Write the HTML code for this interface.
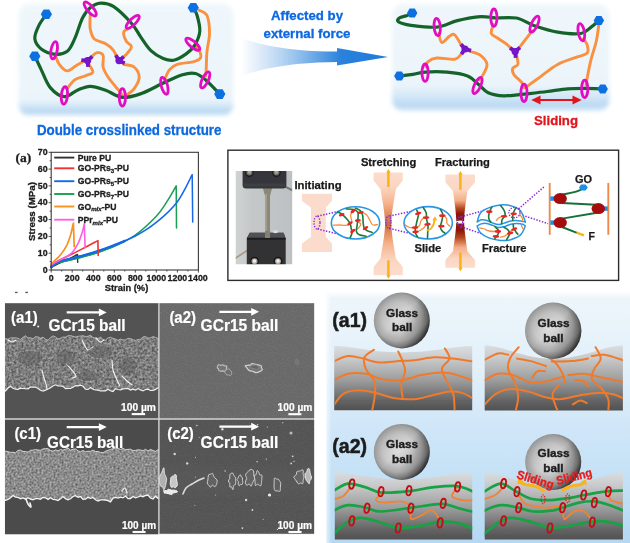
<!DOCTYPE html>
<html><head><meta charset="utf-8"><title>Figure</title>
<style>html,body{margin:0;padding:0;background:#fff}svg{display:block}</style></head>
<body>
<svg width="630" height="543" viewBox="0 0 630 543">
<rect width="630" height="543" fill="#ffffff"/>
<defs>
<linearGradient id="pg" x1="0" y1="0" x2="0" y2="1"><stop offset="0" stop-color="#eff7fb"/><stop offset="0.86" stop-color="#ebf4fa"/><stop offset="0.925" stop-color="#cde4f6"/><stop offset="0.965" stop-color="#b8d8f2"/><stop offset="1" stop-color="#d2e7f7"/></linearGradient>
<linearGradient id="pg2" x1="0" y1="0" x2="0" y2="1"><stop offset="0" stop-color="#eff7fb"/><stop offset="0.76" stop-color="#ebf4fa"/><stop offset="0.88" stop-color="#d0e5f6"/><stop offset="0.95" stop-color="#bad9f2"/><stop offset="1" stop-color="#d2e7f7"/></linearGradient>
<linearGradient id="ag" x1="0" y1="0" x2="1" y2="0"><stop offset="0" stop-color="#cfe2f6" stop-opacity="0"/><stop offset="0.14" stop-color="#cfe2f6" stop-opacity="0.75"/><stop offset="0.5" stop-color="#6aa8e6"/><stop offset="0.68" stop-color="#2a82dc"/><stop offset="1" stop-color="#1e7ad8"/></linearGradient>
<filter id="b1" x="-5%" y="-8%" width="110%" height="116%"><feGaussianBlur stdDeviation="2"/></filter>
<filter id="b05"><feGaussianBlur stdDeviation="0.45"/></filter>
</defs>
<rect x="18.5" y="3.8" width="215" height="111.8" rx="11" fill="url(#pg)" filter="url(#b1)"/>
<rect x="392" y="4" width="217.5" height="106.8" rx="11" fill="url(#pg2)" filter="url(#b1)"/>
<path d="M241 38 C275 50 310 51.5 337 51.5 L337 48 L388 57 L337 65.5 L337 62 C310 62.5 275 64 241 76 Z" fill="url(#ag)" filter="url(#b05)"/>
<g filter="url(#b05)">
<path d="M90.2 15.5 C90.2 17.6 89.6 24.5 90.2 28.4 C90.9 32.2 91.5 36.1 94.1 38.7 C96.6 41.2 102.4 41.9 105.7 43.8 C108.9 45.7 111.5 47.9 113.4 50.3 C115.3 52.6 116.6 56.7 117.3 58.0" fill="none" stroke="#f9913f" stroke-width="2.9" stroke-linecap="round" stroke-linejoin="round" />
<path d="M128.9 28.4 C128.0 29.0 124.1 30.1 123.7 32.2 C123.3 34.4 125.0 38.9 126.3 41.2 C127.6 43.6 131.2 44.5 131.4 46.4 C131.7 48.3 129.1 50.9 127.6 52.8 C126.1 54.8 123.3 57.1 122.4 58.0" fill="none" stroke="#f9913f" stroke-width="2.9" stroke-linecap="round" stroke-linejoin="round" />
<path d="M123.7 64.4 C125.4 64.9 131.4 64.9 134.0 67.0 C136.6 69.2 139.2 73.7 139.2 77.3 C139.2 81.0 136.2 85.9 134.0 88.9 C131.9 91.9 127.6 94.3 126.3 95.4" fill="none" stroke="#f9913f" stroke-width="2.9" stroke-linecap="round" stroke-linejoin="round" />
<path d="M55.4 55.4 C56.1 56.9 57.3 61.9 59.3 64.4 C61.2 67.0 64.2 70.7 67.0 70.9 C69.8 71.1 73.2 67.3 76.0 65.7 C78.8 64.1 82.5 62.1 83.8 61.3" fill="none" stroke="#f9913f" stroke-width="2.9" stroke-linecap="round" stroke-linejoin="round" />
<path d="M90.2 58.0 C91.3 57.1 94.5 53.3 96.6 52.8 C98.8 52.4 102.0 53.0 103.1 55.4 C104.2 57.8 102.2 63.4 103.1 67.0 C104.0 70.7 105.7 73.5 108.2 77.3 C110.8 81.2 116.2 87.2 118.6 90.2 C120.9 93.2 121.8 94.5 122.4 95.4" fill="none" stroke="#f9913f" stroke-width="2.9" stroke-linecap="round" stroke-linejoin="round" />
<path d="M88.9 64.4 C89.6 65.7 93.4 70.2 92.8 72.2 C92.1 74.1 88.1 74.7 85.1 76.0 C82.0 77.3 77.7 77.7 74.7 79.9 C71.7 82.0 68.3 87.4 67.0 88.9" fill="none" stroke="#f9913f" stroke-width="2.9" stroke-linecap="round" stroke-linejoin="round" />
<path d="M199.2 10.3 C200.5 11.2 205.2 11.6 207.0 15.5 C208.7 19.3 209.5 27.5 209.5 33.5 C209.5 39.5 207.5 45.5 207.0 51.5 C206.4 57.6 206.4 65.5 206.2 69.6 C206.0 73.7 205.8 75.0 205.7 76.0" fill="none" stroke="#f9913f" stroke-width="2.9" stroke-linecap="round" stroke-linejoin="round" />
<path d="M164.4 79.9 C165.3 78.2 167.4 72.2 169.6 69.6 C171.7 67.0 173.5 65.7 177.3 64.4 C181.2 63.1 188.9 62.9 192.8 61.9 C196.6 60.8 199.4 59.9 200.5 58.0 C201.6 56.1 200.1 52.2 199.2 50.3 C198.4 48.3 196.0 47.0 195.4 46.4" fill="none" stroke="#f9913f" stroke-width="2.9" stroke-linecap="round" stroke-linejoin="round" />
<path d="M46.4 14.2 C45.1 16.1 40.6 21.7 38.7 25.8 C36.7 29.9 34.4 34.8 34.8 38.7 C35.2 42.5 38.0 46.4 41.2 49.0 C44.5 51.5 49.8 53.7 54.1 54.1 C58.4 54.6 63.6 54.1 67.0 51.5 C70.4 49.0 72.2 44.2 74.7 38.7 C77.3 33.1 79.9 23.2 82.5 18.0 C85.1 12.9 87.2 10.2 90.2 7.7 C93.2 5.2 96.6 3.3 100.5 3.1 C104.4 2.9 108.2 3.1 113.4 6.4 C118.6 9.8 126.9 18.2 131.4 23.2 C136.0 28.2 137.3 32.0 140.5 36.6 C143.7 41.2 147.1 47.0 150.9 50.6 C154.7 54.2 159.4 56.9 163.2 58.5 C167.0 60.1 169.8 60.9 173.6 60.2 C177.4 59.5 182.3 56.6 185.8 54.1 C189.3 51.6 192.3 49.2 194.6 45.4 C196.9 41.6 199.4 36.4 199.8 31.4 C200.2 26.4 198.3 19.6 197.2 15.7 C196.1 11.8 194.0 9.0 193.3 7.7" fill="none" stroke="#14642c" stroke-width="3.2" stroke-linecap="round" stroke-linejoin="round" />
<path d="M34.8 56.2 C35.9 58.4 38.7 64.3 41.2 69.6 C43.8 74.8 46.4 83.1 50.3 87.6 C54.1 92.1 59.9 96.2 64.4 96.6 C68.9 97.1 73.0 91.9 77.3 90.2 C81.6 88.5 85.5 86.3 90.2 86.3 C94.9 86.3 100.3 88.4 105.7 90.2 C111.0 92.1 116.5 96.9 122.4 97.4 C128.4 98.0 134.2 96.0 141.2 93.6 C148.2 91.1 157.6 85.6 164.4 82.5 C171.3 79.3 177.3 76.2 182.5 74.7 C187.6 73.2 191.5 72.6 195.4 73.5 C199.2 74.3 201.6 76.5 205.7 79.9 C209.8 83.3 217.5 91.7 219.8 94.1" fill="none" stroke="#14642c" stroke-width="3.2" stroke-linecap="round" stroke-linejoin="round" />
<ellipse cx="90.2" cy="9.0" rx="3.1" ry="8.7" transform="rotate(-40 90.2 9.0)" fill="none" stroke="#e20cc2" stroke-width="2.8"/>
<ellipse cx="132.7" cy="21.9" rx="3.1" ry="8.7" transform="rotate(45 132.7 21.9)" fill="none" stroke="#e20cc2" stroke-width="2.8"/>
<ellipse cx="54.1" cy="50.3" rx="3.1" ry="8.7" transform="rotate(10 54.1 50.3)" fill="none" stroke="#e20cc2" stroke-width="2.8"/>
<ellipse cx="64.4" cy="95.4" rx="3.1" ry="8.7" transform="rotate(5 64.4 95.4)" fill="none" stroke="#e20cc2" stroke-width="2.8"/>
<ellipse cx="122.4" cy="97.4" rx="3.1" ry="8.7" transform="rotate(0 122.4 97.4)" fill="none" stroke="#e20cc2" stroke-width="2.8"/>
<ellipse cx="192.8" cy="44.3" rx="3.1" ry="8.7" transform="rotate(-50 192.8 44.3)" fill="none" stroke="#e20cc2" stroke-width="2.8"/>
<ellipse cx="164.4" cy="85.8" rx="3.1" ry="8.7" transform="rotate(-15 164.4 85.8)" fill="none" stroke="#e20cc2" stroke-width="2.8"/>
<ellipse cx="205.2" cy="79.9" rx="3.1" ry="8.7" transform="rotate(25 205.2 79.9)" fill="none" stroke="#e20cc2" stroke-width="2.8"/>
<line x1="87.6" y1="60.6" x2="81.3" y2="60.1" stroke="#7412c8" stroke-width="3.8" stroke-linecap="butt"/><line x1="87.6" y1="60.6" x2="92.3" y2="56.4" stroke="#7412c8" stroke-width="3.8" stroke-linecap="butt"/><line x1="87.6" y1="60.6" x2="88.1" y2="66.9" stroke="#7412c8" stroke-width="3.8" stroke-linecap="butt"/><circle cx="87.6" cy="60.6" r="3.6" fill="#7412c8"/>
<line x1="119.0" y1="60.6" x2="115.8" y2="55.1" stroke="#7412c8" stroke-width="3.8" stroke-linecap="butt"/><line x1="119.0" y1="60.6" x2="123.8" y2="56.6" stroke="#7412c8" stroke-width="3.8" stroke-linecap="butt"/><line x1="119.0" y1="60.6" x2="124.7" y2="63.3" stroke="#7412c8" stroke-width="3.8" stroke-linecap="butt"/><circle cx="119.0" cy="60.6" r="3.6" fill="#7412c8"/>
<polygon points="52.0,14.2 49.2,19.0 43.6,19.0 40.8,14.2 43.6,9.4 49.2,9.4" fill="#1070e0"/>
<polygon points="40.4,56.2 37.6,61.0 32.0,61.0 29.2,56.2 32.0,51.4 37.6,51.4" fill="#1070e0"/>
<polygon points="198.9,7.7 196.1,12.5 190.5,12.5 187.7,7.7 190.5,2.9 196.1,2.9" fill="#1070e0"/>
<polygon points="225.4,94.1 222.6,98.9 217.0,98.9 214.2,94.1 217.0,89.3 222.6,89.3" fill="#1070e0"/>
<path d="M438.8 33.5 C439.3 35.0 440.1 42.1 441.9 42.5 C443.7 43.0 447.4 37.4 449.6 36.1 C451.7 34.8 452.8 33.3 454.7 34.8 C456.7 36.3 460.1 43.4 461.2 45.1" fill="none" stroke="#f9913f" stroke-width="2.9" stroke-linecap="round" stroke-linejoin="round" />
<path d="M461.2 54.1 C460.1 55.0 458.8 58.6 454.7 59.3 C450.7 59.9 441.2 57.6 436.7 58.0 C432.2 58.4 429.5 60.4 427.7 61.9 C425.9 63.4 426.2 66.2 425.9 67.0" fill="none" stroke="#f9913f" stroke-width="2.9" stroke-linecap="round" stroke-linejoin="round" />
<path d="M470.2 51.5 C471.9 52.2 477.7 53.3 480.5 55.4 C483.3 57.6 486.5 61.2 487.0 64.4 C487.4 67.7 484.4 72.2 483.1 74.7 C481.8 77.3 479.9 79.0 479.2 79.9" fill="none" stroke="#f9913f" stroke-width="2.9" stroke-linecap="round" stroke-linejoin="round" />
<path d="M493.4 24.5 C493.1 26.0 490.5 31.1 491.3 33.5 C492.2 35.9 496.1 36.9 498.6 38.7 C501.0 40.4 504.1 42.1 506.3 43.8 C508.4 45.5 510.6 48.1 511.4 49.0" fill="none" stroke="#f9913f" stroke-width="2.9" stroke-linecap="round" stroke-linejoin="round" />
<path d="M532.1 30.9 C530.8 32.6 526.5 38.4 524.3 41.2 C522.2 44.0 520.0 46.6 519.2 47.7" fill="none" stroke="#f9913f" stroke-width="2.9" stroke-linecap="round" stroke-linejoin="round" />
<path d="M516.6 55.4 C516.8 56.9 518.5 62.3 517.9 64.4 C517.2 66.6 513.4 66.6 512.7 68.3 C512.1 70.0 512.5 72.4 514.0 74.7 C515.5 77.1 520.1 80.3 521.8 82.5 C523.4 84.6 523.5 86.8 523.8 87.6" fill="none" stroke="#f9913f" stroke-width="2.9" stroke-linecap="round" stroke-linejoin="round" />
<path d="M525.4 87.6 C527.8 85.9 534.2 81.2 539.6 77.3 C545.0 73.5 551.2 67.9 557.6 64.4 C564.1 61.0 573.3 58.6 578.2 56.7 C583.2 54.8 585.8 54.8 587.3 52.8 C588.8 50.9 587.9 47.5 587.3 45.1 C586.6 42.7 584.0 39.7 583.4 38.7" fill="none" stroke="#f9913f" stroke-width="2.9" stroke-linecap="round" stroke-linejoin="round" />
<path d="M598.9 24.5 C598.4 27.3 597.6 35.4 596.3 41.2 C595.0 47.0 592.6 53.3 591.1 59.3 C589.6 65.3 588.1 73.0 587.3 77.3 C586.4 81.6 586.2 83.8 586.0 85.1" fill="none" stroke="#f9913f" stroke-width="2.9" stroke-linecap="round" stroke-linejoin="round" />
<path d="M412.2 12.9 C411.4 13.3 409.2 14.6 407.1 15.5 C404.9 16.3 400.7 17.0 399.3 18.0 C397.9 19.1 396.6 20.7 398.6 21.9 C400.5 23.1 404.6 24.4 410.9 25.3 C417.3 26.1 429.0 27.8 436.7 27.1 C444.4 26.3 450.4 22.3 457.3 20.6 C464.2 18.9 471.9 17.3 477.9 16.8 C484.0 16.2 490.6 17.3 493.4 17.5 C496.2 17.7 490.7 18.0 494.5 18.0 C498.3 18.1 509.7 16.8 516.4 18.0 C523.0 19.3 527.6 23.4 534.4 25.8 C541.3 28.1 549.9 30.9 557.6 32.2 C565.4 33.5 575.2 34.4 580.8 33.5 C586.4 32.6 588.1 29.2 591.1 27.1 C594.1 24.9 597.6 21.7 598.9 20.6" fill="none" stroke="#14642c" stroke-width="3.2" stroke-linecap="round" stroke-linejoin="round" />
<path d="M399.3 76.0 C401.3 75.8 406.6 75.4 410.9 74.7 C415.2 74.1 419.1 72.6 425.1 72.2 C431.1 71.7 439.9 71.5 447.0 72.2 C454.1 72.8 462.3 73.9 467.6 76.0 C473.0 78.2 475.8 82.3 479.2 85.1 C482.7 87.8 484.2 91.0 488.2 92.8 C492.3 94.6 497.7 95.7 503.7 95.9 C509.7 96.1 516.9 94.8 524.1 94.1 C531.4 93.3 540.0 92.4 547.3 91.5 C554.6 90.6 561.7 89.4 567.9 88.9 C574.2 88.4 578.9 88.4 584.7 88.4 C590.5 88.4 599.7 88.8 602.7 88.9" fill="none" stroke="#14642c" stroke-width="3.2" stroke-linecap="round" stroke-linejoin="round" />
<ellipse cx="437.2" cy="27.0" rx="3.1" ry="8.7" transform="rotate(-5 437.2 27.0)" fill="none" stroke="#e20cc2" stroke-width="2.8"/>
<ellipse cx="493.9" cy="17.7" rx="3.1" ry="8.7" transform="rotate(0 493.9 17.7)" fill="none" stroke="#e20cc2" stroke-width="2.8"/>
<ellipse cx="534.5" cy="24.2" rx="3.1" ry="8.7" transform="rotate(25 534.5 24.2)" fill="none" stroke="#e20cc2" stroke-width="2.8"/>
<ellipse cx="425.1" cy="72.7" rx="3.1" ry="8.7" transform="rotate(0 425.1 72.7)" fill="none" stroke="#e20cc2" stroke-width="2.8"/>
<ellipse cx="477.5" cy="85.5" rx="3.1" ry="8.7" transform="rotate(25 477.5 85.5)" fill="none" stroke="#e20cc2" stroke-width="2.8"/>
<ellipse cx="524.0" cy="92.8" rx="3.1" ry="8.7" transform="rotate(0 524.0 92.8)" fill="none" stroke="#e20cc2" stroke-width="2.8"/>
<ellipse cx="581.3" cy="32.2" rx="3.1" ry="8.7" transform="rotate(-10 581.3 32.2)" fill="none" stroke="#e20cc2" stroke-width="2.8"/>
<ellipse cx="584.7" cy="88.9" rx="3.1" ry="8.7" transform="rotate(0 584.7 88.9)" fill="none" stroke="#e20cc2" stroke-width="2.8"/>
<line x1="465.0" y1="49.0" x2="461.0" y2="44.2" stroke="#7412c8" stroke-width="3.8" stroke-linecap="butt"/><line x1="465.0" y1="49.0" x2="461.4" y2="54.2" stroke="#7412c8" stroke-width="3.8" stroke-linecap="butt"/><line x1="465.0" y1="49.0" x2="471.1" y2="50.6" stroke="#7412c8" stroke-width="3.8" stroke-linecap="butt"/><circle cx="465.0" cy="49.0" r="3.6" fill="#7412c8"/>
<line x1="515.2" y1="51.5" x2="510.0" y2="47.9" stroke="#7412c8" stroke-width="3.8" stroke-linecap="butt"/><line x1="515.2" y1="51.5" x2="520.0" y2="47.5" stroke="#7412c8" stroke-width="3.8" stroke-linecap="butt"/><line x1="515.2" y1="51.5" x2="515.7" y2="57.8" stroke="#7412c8" stroke-width="3.8" stroke-linecap="butt"/><circle cx="515.2" cy="51.5" r="3.6" fill="#7412c8"/>
<polygon points="417.4,12.9 414.8,17.4 409.6,17.4 407.0,12.9 409.6,8.4 414.8,8.4" fill="#1070e0"/>
<polygon points="404.5,76.0 401.9,80.5 396.7,80.5 394.1,76.0 396.7,71.5 401.9,71.5" fill="#1070e0"/>
<polygon points="604.1,20.6 601.5,25.1 596.3,25.1 593.7,20.6 596.3,16.1 601.5,16.1" fill="#1070e0"/>
<polygon points="607.9,88.9 605.3,93.4 600.1,93.4 597.5,88.9 600.1,84.4 605.3,84.4" fill="#1070e0"/>
<line x1="537" y1="100" x2="576" y2="100" stroke="#e0141c" stroke-width="2.2"/><polygon points="531.3,100 540.5,95.6 540.5,104.4" fill="#e0141c"/><polygon points="581.7,100 572.5,95.6 572.5,104.4" fill="#e0141c"/>
</g>
<g font-family="Liberation Sans, sans-serif" font-weight="bold" filter="url(#b05)" stroke-width="0.3">
<text x="129.2" y="134.9" font-size="14.6" fill="#0c68e0" stroke="#0c68e0" text-anchor="middle" textLength="184.5" lengthAdjust="spacingAndGlyphs">Double crosslinked structure</text>
<text x="307" y="20" font-size="13.2" fill="#0c68e0" stroke="#0c68e0" text-anchor="middle" textLength="72" lengthAdjust="spacingAndGlyphs">Affected by</text>
<text x="307" y="37.5" font-size="13.2" fill="#0c68e0" stroke="#0c68e0" text-anchor="middle" textLength="87" lengthAdjust="spacingAndGlyphs">external force</text>
<text x="556" y="125" font-size="13.3" fill="#e0141c" stroke="#e0141c" text-anchor="middle" textLength="44" lengthAdjust="spacingAndGlyphs">Sliding</text>
</g>
<g filter="url(#b05)">
<path d="M51.2 267.5 C52.3 266.9 54.9 265.4 57.5 264.1 C60.1 262.9 63.6 261.5 67.0 259.9 C70.3 258.3 75.7 255.4 77.5 254.5 L77.7 262.4" fill="none" stroke="#333" stroke-width="1.4" stroke-linejoin="round" stroke-linecap="round"/>
<path d="M51.2 267.5 C52.1 266.8 54.7 264.2 56.5 263.3 C58.2 262.3 59.1 262.4 61.7 261.8 C64.3 261.1 67.0 260.7 72.2 259.4 C77.5 258.1 86.2 256.1 93.3 253.9 C100.3 251.6 109.0 248.2 114.3 246.1 C119.5 244.0 123.0 242.1 124.8 241.2" fill="none" stroke="#14a050" stroke-width="1.9" stroke-linejoin="round" stroke-linecap="round"/>
<path d="M51.2 267.5 C52.1 266.8 54.7 264.2 56.5 263.3 C58.2 262.3 59.1 262.4 61.7 261.8 C64.3 261.1 67.0 260.7 72.2 259.4 C77.5 258.1 86.2 256.1 93.3 253.9 C100.3 251.6 107.3 249.3 114.3 246.1 C121.3 243.0 128.3 240.0 135.3 235.0 C142.3 230.0 151.1 221.7 156.3 216.2 C161.6 210.6 163.5 206.8 166.9 201.7 C170.2 196.7 174.7 188.6 176.2 185.9 L176.5 228.0" fill="none" stroke="#14a050" stroke-width="1.5" stroke-linejoin="round" stroke-linecap="round"/>
<path d="M51.2 266.6 C52.1 265.9 54.7 263.4 56.5 262.4 C58.2 261.4 59.1 261.3 61.7 260.6 C64.3 259.9 67.0 259.6 72.2 258.2 C77.5 256.9 86.2 254.7 93.3 252.5 C100.3 250.3 109.0 247.0 114.3 245.1 C119.5 243.2 123.0 241.6 124.8 240.9" fill="none" stroke="#1468e8" stroke-width="2.2" stroke-linejoin="round" stroke-linecap="round"/>
<path d="M51.2 266.6 C52.1 265.9 54.7 263.4 56.5 262.4 C58.2 261.4 59.1 261.3 61.7 260.6 C64.3 259.9 67.0 259.6 72.2 258.2 C77.5 256.9 86.2 254.7 93.3 252.5 C100.3 250.3 107.3 247.9 114.3 245.1 C121.3 242.4 128.3 239.8 135.3 236.0 C142.3 232.3 149.3 228.1 156.3 222.4 C163.4 216.7 171.4 209.7 177.4 201.7 C183.3 193.8 189.7 179.2 192.2 174.7 L192.7 222.1" fill="none" stroke="#1468e8" stroke-width="1.5" stroke-linejoin="round" stroke-linecap="round"/>
<path d="M51.2 265.8 C52.1 265.1 53.8 263.1 56.5 261.6 C59.1 260.1 62.6 258.7 67.0 256.5 C71.4 254.4 77.6 251.3 82.7 248.6 C87.9 246.0 95.4 241.9 97.9 240.6 L98.2 255.5" fill="none" stroke="#f03030" stroke-width="1.6" stroke-linejoin="round" stroke-linecap="round"/>
<path d="M51.2 265.0 C52.3 264.3 55.2 262.5 57.5 261.3 C59.8 260.0 62.4 259.0 64.9 257.6 C67.3 256.1 69.9 255.1 72.2 252.5 C74.5 250.0 77.0 245.6 78.6 242.3 C80.3 238.9 81.3 235.2 82.2 232.2 C83.2 229.1 84.0 225.3 84.3 223.9 L85.1 247.6" fill="none" stroke="#fa60e0" stroke-width="1.6" stroke-linejoin="round" stroke-linecap="round"/>
<path d="M51.2 264.1 C51.9 263.4 53.7 261.6 55.4 259.9 C57.1 258.2 59.3 256.5 61.2 254.0 C63.1 251.5 65.4 248.0 67.0 244.8 C68.5 241.6 69.6 238.3 70.7 234.7 C71.7 231.1 72.9 225.0 73.4 223.1 L74.2 246.6" fill="none" stroke="#f89020" stroke-width="1.7" stroke-linejoin="round" stroke-linecap="round"/>
<rect x="51.2" y="152.3" width="147.2" height="117.7" fill="none" stroke="#3a3a3a" stroke-width="1.1"/>
<path d="M51.2 270.0 h-2.6 M51.2 261.6 h-1.5 M51.2 253.2 h-2.6 M51.2 244.8 h-1.5 M51.2 236.4 h-2.6 M51.2 228.0 h-1.5 M51.2 219.6 h-2.6 M51.2 211.2 h-1.5 M51.2 202.7 h-2.6 M51.2 194.3 h-1.5 M51.2 185.9 h-2.6 M51.2 177.5 h-1.5 M51.2 169.1 h-2.6 M51.2 160.7 h-1.5 M51.2 152.3 h-2.6 M51.2 270.0 v2.6 M61.7 270.0 v1.5 M72.2 270.0 v2.6 M82.7 270.0 v1.5 M93.3 270.0 v2.6 M103.8 270.0 v1.5 M114.3 270.0 v2.6 M124.8 270.0 v1.5 M135.3 270.0 v2.6 M145.8 270.0 v1.5 M156.3 270.0 v2.6 M166.9 270.0 v1.5 M177.4 270.0 v2.6 M187.9 270.0 v1.5 M198.4 270.0 v2.6" stroke="#3a3a3a" stroke-width="0.9" fill="none"/>
<line x1="54.2" y1="157.6" x2="74.3" y2="157.6" stroke="#333" stroke-width="1.9"/>
<line x1="54.2" y1="168.3" x2="74.3" y2="168.3" stroke="#f03030" stroke-width="1.9"/>
<line x1="54.2" y1="181.2" x2="74.3" y2="181.2" stroke="#1468e8" stroke-width="1.9"/>
<line x1="54.2" y1="194.0" x2="74.3" y2="194.0" stroke="#14a050" stroke-width="1.9"/>
<line x1="54.2" y1="206.5" x2="74.3" y2="206.5" stroke="#f89020" stroke-width="1.9"/>
<line x1="54.2" y1="219.7" x2="74.3" y2="219.7" stroke="#fa60e0" stroke-width="1.9"/>
<rect x="15" y="291.8" width="2.6" height="1.3" fill="#555"/><rect x="25.3" y="291.8" width="2.6" height="1.3" fill="#555"/>
</g>
<g font-family="Liberation Sans, sans-serif" font-weight="bold" fill="#1c1c1c" stroke="#1c1c1c" stroke-width="0.3" filter="url(#b05)">
<text x="47.6" y="272.6" font-size="8.8" text-anchor="end">0</text>
<text x="47.6" y="255.8" font-size="8.8" text-anchor="end">10</text>
<text x="47.6" y="239.0" font-size="8.8" text-anchor="end">20</text>
<text x="47.6" y="222.2" font-size="8.8" text-anchor="end">30</text>
<text x="47.6" y="205.3" font-size="8.8" text-anchor="end">40</text>
<text x="47.6" y="188.5" font-size="8.8" text-anchor="end">50</text>
<text x="47.6" y="171.7" font-size="8.8" text-anchor="end">60</text>
<text x="47.6" y="154.9" font-size="8.8" text-anchor="end">70</text>
<text x="51.2" y="280.5" font-size="8.8" text-anchor="middle">0</text>
<text x="72.2" y="280.5" font-size="8.8" text-anchor="middle">200</text>
<text x="93.3" y="280.5" font-size="8.8" text-anchor="middle">400</text>
<text x="114.3" y="280.5" font-size="8.8" text-anchor="middle">600</text>
<text x="135.3" y="280.5" font-size="8.8" text-anchor="middle">800</text>
<text x="156.3" y="280.5" font-size="8.8" text-anchor="middle">1000</text>
<text x="177.4" y="280.5" font-size="8.8" text-anchor="middle">1200</text>
<text x="197.9" y="280.5" font-size="8.8" text-anchor="middle">1400</text>
<text x="126.5" y="291.3" font-size="9" text-anchor="middle" textLength="43.5" lengthAdjust="spacingAndGlyphs">Strain (%)</text>
<text transform="translate(35.3 211.5) rotate(-90)" font-size="9" text-anchor="middle" textLength="59" lengthAdjust="spacingAndGlyphs">Stress (MPa)</text>
<text x="77.8" y="160.6" font-size="8.6">Pure PU</text>
<text x="77.8" y="171.3" font-size="8.6">GO-PRs<tspan font-size="6.1" dy="1.8">3</tspan><tspan dy="-1.8">-PU</tspan></text>
<text x="77.8" y="184.2" font-size="8.6">GO-PRs<tspan font-size="6.1" dy="1.8">5</tspan><tspan dy="-1.8">-PU</tspan></text>
<text x="77.8" y="197.0" font-size="8.6">GO-PRs<tspan font-size="6.1" dy="1.8">7</tspan><tspan dy="-1.8">-PU</tspan></text>
<text x="77.8" y="209.5" font-size="8.6">GO<tspan font-size="6.1" dy="1.8"><tspan font-style="italic">mix</tspan></tspan><tspan dy="-1.8">-PU</tspan></text>
<text x="77.8" y="222.7" font-size="8.6">PPr<tspan font-size="6.1" dy="1.8"><tspan font-style="italic">mix</tspan></tspan><tspan dy="-1.8">-PU</tspan></text>
<text x="15.5" y="162.3" font-family="Liberation Serif, serif" font-size="13.5">(a)</text>
</g>
<defs>
<linearGradient id="d2g" x1="0" y1="0" x2="0" y2="1"><stop offset="0" stop-color="#fcdccc"/><stop offset="0.14" stop-color="#fbd6c2"/><stop offset="0.3" stop-color="#f6b48e"/><stop offset="0.42" stop-color="#e08858"/><stop offset="0.5" stop-color="#c86a3c"/><stop offset="0.58" stop-color="#e08858"/><stop offset="0.7" stop-color="#f6b48e"/><stop offset="0.86" stop-color="#fbd6c2"/><stop offset="1" stop-color="#fcdccc"/></linearGradient>
<linearGradient id="d3g" x1="0" y1="0" x2="0" y2="1"><stop offset="0" stop-color="#fcdccc"/><stop offset="0.16" stop-color="#fbd6c2"/><stop offset="0.28" stop-color="#f4ae86"/><stop offset="0.36" stop-color="#b84a22"/><stop offset="0.42" stop-color="#8c1808"/><stop offset="0.6" stop-color="#8c1808"/><stop offset="0.68" stop-color="#b84a22"/><stop offset="0.78" stop-color="#f4ae86"/><stop offset="0.9" stop-color="#fbd6c2"/><stop offset="1" stop-color="#fcdccc"/></linearGradient>
<linearGradient id="phg" x1="0" y1="0" x2="1" y2="0"><stop offset="0" stop-color="#d2d4d4"/><stop offset="0.3" stop-color="#c4c8c8"/><stop offset="1" stop-color="#bcc0c2"/></linearGradient>
<filter id="b08"><feGaussianBlur stdDeviation="0.7"/></filter>
<clipPath id="phc"><rect x="235.7" y="171" width="56.5" height="93.2"/></clipPath>
</defs>
<rect x="227.9" y="150.2" width="390.7" height="130.2" fill="#fff" stroke="#2c2c2c" stroke-width="1.4"/>
<g filter="url(#b05)">
</g><g filter="url(#b08)" clip-path="url(#phc)">
<rect x="234" y="169" width="60" height="97" fill="url(#phg)"/>
<path d="M284 186.2 L293 190.5" stroke="#7a7672" stroke-width="2"/><path d="M235 258.5 L248 250" stroke="#a89888" stroke-width="1.6"/>
<path d="M262.6 187 H272.4 L270 196 V238 H265 V196 Z" fill="#8c8878"/><rect x="265.2" y="194" width="1.5" height="42" fill="#aaa698"/>
<path d="M242.6 169 H286.4 V185 Q286.4 188.6 283 188.6 H246 Q242.6 188.6 242.6 185 Z" fill="#34363a"/>
<rect x="244" y="183.5" width="41" height="3" fill="#3e3f42"/>
<circle cx="249.4" cy="172.8" r="4.3" fill="#1c1c1e"/><circle cx="249.4" cy="172.6" r="3" fill="#77736a"/><circle cx="249.4" cy="172.2" r="1.6" fill="#a8a498"/>
<circle cx="276.4" cy="172.8" r="4.3" fill="#1c1c1e"/><circle cx="276.4" cy="172.6" r="3" fill="#77736a"/><circle cx="276.4" cy="172.2" r="1.6" fill="#a8a498"/>
<path d="M249.8 232.8 H283.5 L285.7 238 V266 H246.8 V238 Z" fill="#303236"/>
<path d="M249.8 232.8 H283.5 L285.2 237.4 H247.6 Z" fill="#505154"/>
<rect x="247" y="238" width="38.6" height="1.6" fill="#1a1a1c"/>
<rect x="265" y="231" width="5" height="7" fill="#858172"/>
<ellipse cx="275.4" cy="231.6" rx="2.8" ry="1.7" fill="#dcdcdc"/>
<circle cx="254.5" cy="261.2" r="4.4" fill="#17171a"/><circle cx="254.5" cy="261.2" r="3" fill="#b0a89c"/><circle cx="254.5" cy="261" r="1.7" fill="#f2efe8"/>
<circle cx="278.0" cy="261.2" r="4.4" fill="#17171a"/><circle cx="278.0" cy="261.2" r="3" fill="#b0a89c"/><circle cx="278.0" cy="261" r="1.7" fill="#f2efe8"/>
</g><g filter="url(#b05)">
<path d="M301.9 193.7 H332 V200.7 L325.8 207.7 V236.7 L332 243.7 V252.1 H301.9 V243.7 L311 236.7 V207.7 L301.9 200.7 Z" fill="#fbdccc"/>
<path d="M373.6 172.4 H402.8 V180.6 L395.8 189.3 C394.2 200.7 391.8 210.0 391.3 223.8 C391.8 237.6 394.2 246.9 395.8 258.3 L402.8 267.0 V275.2 H373.6 V267.0 L380.6 258.3 C382.2 246.9 384.6 237.6 385.1 223.8 C384.6 210.0 382.2 200.7 380.6 189.3 L373.6 180.6 Z" fill="url(#d2g)"/>
<path d="M445.4 174.5 H475.0 V182.3 L467.4 191.0 C466.2 200.9 464.5 209.1 464.1 221.2 C464.5 233.2 466.2 241.4 467.4 251.3 L475.0 260.0 V267.8 H445.4 V260.0 L453.0 251.3 C454.2 241.4 455.9 233.2 456.3 221.2 C455.9 209.1 454.2 200.9 453.0 191.0 L445.4 182.3 Z" fill="url(#d3g)"/>
<ellipse cx="460.2" cy="222" rx="4.2" ry="1.6" fill="#fff"/>
<line x1="388.4" y1="187.0" x2="388.4" y2="171.5" stroke="#f8b418" stroke-width="2.5"/><polygon points="386.2,172.5 390.6,172.5 388.4,169.0" fill="#f8b418"/>
<line x1="388.4" y1="260.3" x2="388.4" y2="276.2" stroke="#f8b418" stroke-width="2.5"/><polygon points="386.2,275.2 390.6,275.2 388.4,278.7" fill="#f8b418"/>
<line x1="460.4" y1="189.9" x2="460.4" y2="173.5" stroke="#f8b418" stroke-width="2.5"/><polygon points="458.2,174.5 462.6,174.5 460.4,171.0" fill="#f8b418"/>
<line x1="460.4" y1="252.4" x2="460.4" y2="268.8" stroke="#f8b418" stroke-width="2.5"/><polygon points="458.2,267.8 462.6,267.8 460.4,271.3" fill="#f8b418"/>
<ellipse cx="317.0" cy="222.6" rx="3" ry="6.5" fill="none" stroke="#8a28d8" stroke-width="1.4" stroke-dasharray="1.3 1.3"/>
<line x1="317.5" y1="216.2" x2="339.0" y2="211.3" stroke="#8a28d8" stroke-width="1.5" stroke-dasharray="1.4 1.5"/>
<line x1="317.5" y1="229.0" x2="339.0" y2="234.2" stroke="#8a28d8" stroke-width="1.5" stroke-dasharray="1.4 1.5"/>
<ellipse cx="388.5" cy="222.2" rx="2.6" ry="6.2" fill="none" stroke="#8a28d8" stroke-width="1.4" stroke-dasharray="1.3 1.3"/>
<line x1="389.5" y1="216.0" x2="410.5" y2="211.5" stroke="#8a28d8" stroke-width="1.5" stroke-dasharray="1.4 1.5"/>
<line x1="389.5" y1="228.4" x2="410.0" y2="233.4" stroke="#8a28d8" stroke-width="1.5" stroke-dasharray="1.4 1.5"/>
<ellipse cx="460.1" cy="221.7" rx="2.6" ry="5" fill="none" stroke="#8a28d8" stroke-width="1.4" stroke-dasharray="1.3 1.3"/>
<line x1="461.0" y1="216.8" x2="481.4" y2="211.2" stroke="#8a28d8" stroke-width="1.5" stroke-dasharray="1.4 1.5"/>
<line x1="461.0" y1="226.6" x2="481.0" y2="233.6" stroke="#8a28d8" stroke-width="1.5" stroke-dasharray="1.4 1.5"/>
<line x1="518.6" y1="208.8" x2="545.0" y2="186.0" stroke="#8a28d8" stroke-width="1.5" stroke-dasharray="1.4 1.5"/>
<line x1="519.8" y1="214.4" x2="548.0" y2="223.6" stroke="#8a28d8" stroke-width="1.5" stroke-dasharray="1.4 1.5"/>
<ellipse cx="355.5" cy="222.9" rx="24.2" ry="16.1" fill="#fff" stroke="#2896e4" stroke-width="1.6"/>
<path d="M333.1 225.2 C334.1 225.2 337.0 225.0 339.3 225.0 C341.6 225.0 344.8 225.7 346.9 225.2 C349.0 224.8 351.0 223.9 351.7 222.4 C352.3 220.9 350.8 217.7 350.7 216.2 C350.6 214.7 350.7 214.0 351.2 213.3 C351.7 212.6 353.2 212.1 353.6 211.9" fill="none" stroke="#f4903c" stroke-width="1.3" stroke-linecap="round" stroke-linejoin="round" />
<path d="M363.6 212.9 C364.1 213.3 365.9 214.0 366.9 215.2 C367.9 216.4 368.8 218.4 369.8 220.0 C370.7 221.6 371.3 224.0 372.6 224.8 C373.9 225.5 376.6 224.6 377.4 224.6" fill="none" stroke="#f4903c" stroke-width="1.3" stroke-linecap="round" stroke-linejoin="round" />
<path d="M357.4 221.4 C357.9 221.8 360.4 222.9 360.7 223.8 C361.0 224.8 360.0 226.2 359.3 227.1 C358.6 228.1 356.9 229.1 356.4 229.5" fill="none" stroke="#f4903c" stroke-width="1.3" stroke-linecap="round" stroke-linejoin="round" />
<path d="M337.4 211.9 C338.2 212.3 340.6 213.1 342.1 214.3 C343.7 215.5 345.6 217.5 346.9 219.0 C348.3 220.6 349.5 222.2 350.2 223.8 C351.0 225.4 350.9 227.1 351.2 228.6 C351.5 230.0 352.3 230.9 352.1 232.4 C352.0 233.9 350.6 236.7 350.2 237.6" fill="none" stroke="#1a7a3c" stroke-width="1.6" stroke-linecap="round" stroke-linejoin="round" />
<path d="M346.4 209.0 C347.6 209.1 351.7 209.0 353.6 209.5 C355.5 210.1 357.1 210.8 357.9 212.4 C358.6 214.0 358.0 216.7 357.9 219.0 C357.7 221.4 357.1 224.6 356.9 226.7 C356.7 228.7 356.0 230.1 356.4 231.4 C356.8 232.8 357.7 234.0 359.3 234.8 C360.9 235.6 364.8 236.0 366.0 236.2" fill="none" stroke="#1a7a3c" stroke-width="1.6" stroke-linecap="round" stroke-linejoin="round" />
<path d="M355.5 208.1 C356.3 208.5 359.0 209.3 360.2 210.5 C361.4 211.7 362.1 213.3 362.6 215.2 C363.1 217.1 362.9 219.8 363.1 221.9 C363.3 224.0 363.4 226.2 364.0 227.6 C364.7 229.0 365.6 229.7 366.9 230.5 C368.3 231.3 371.3 232.1 372.1 232.4" fill="none" stroke="#1a7a3c" stroke-width="1.6" stroke-linecap="round" stroke-linejoin="round" />
<ellipse cx="341.7" cy="214.8" rx="3.0" ry="1.4" fill="#ee2222" transform="rotate(-20 341.7 214.8)"/>
<ellipse cx="353.1" cy="211.0" rx="3.0" ry="1.4" fill="#ee2222" transform="rotate(-35 353.1 211.0)"/>
<ellipse cx="360.7" cy="212.4" rx="3.0" ry="1.4" fill="#ee2222" transform="rotate(-10 360.7 212.4)"/>
<ellipse cx="357.9" cy="220.5" rx="3.0" ry="1.4" fill="#ee2222" transform="rotate(-5 357.9 220.5)"/>
<ellipse cx="350.0" cy="223.3" rx="3.0" ry="1.4" fill="#ee2222" transform="rotate(-30 350.0 223.3)"/>
<ellipse cx="365.5" cy="228.1" rx="3.0" ry="1.4" fill="#ee2222" transform="rotate(-30 365.5 228.1)"/>
<ellipse cx="352.8" cy="231.0" rx="3.0" ry="1.4" fill="#ee2222" transform="rotate(-35 352.8 231.0)"/>
<ellipse cx="428.2" cy="222.8" rx="24.2" ry="16.2" fill="#fff" stroke="#2896e4" stroke-width="1.6"/>
<path d="M405.1 224.8 C405.7 225.2 407.0 226.7 408.5 227.1 C410.0 227.6 412.4 227.9 414.2 227.6 C416.0 227.4 418.3 226.8 419.4 225.7 C420.5 224.6 420.1 222.2 420.9 221.0 C421.6 219.7 422.8 218.6 423.7 218.1 C424.7 217.6 426.1 218.1 426.6 218.1" fill="none" stroke="#f4903c" stroke-width="1.3" stroke-linecap="round" stroke-linejoin="round" />
<path d="M413.2 231.9 C414.2 231.7 417.2 231.6 419.0 231.0 C420.7 230.3 422.5 229.1 423.7 228.1 C424.9 227.1 425.3 225.5 426.1 224.8 C426.9 224.0 428.1 224.0 428.5 223.8" fill="none" stroke="#f4903c" stroke-width="1.3" stroke-linecap="round" stroke-linejoin="round" />
<path d="M444.7 215.7 C445.0 216.3 446.2 217.8 446.6 219.0 C447.0 220.3 446.5 222.1 447.0 223.3 C447.6 224.5 449.4 225.7 449.9 226.2" fill="none" stroke="#f4903c" stroke-width="1.3" stroke-linecap="round" stroke-linejoin="round" />
<path d="M416.6 210.0 C416.9 210.7 418.4 212.5 418.5 214.3 C418.6 216.1 417.5 218.7 417.0 221.0 C416.6 223.2 415.9 225.7 415.6 227.6 C415.3 229.5 414.8 230.9 415.1 232.4 C415.5 233.9 417.1 236.0 417.5 236.7" fill="none" stroke="#1a7a3c" stroke-width="1.6" stroke-linecap="round" stroke-linejoin="round" />
<path d="M423.2 207.6 C423.7 208.4 425.5 210.5 426.1 212.4 C426.7 214.3 426.3 216.8 426.6 219.0 C426.9 221.3 427.8 223.5 428.0 225.7 C428.2 227.9 427.8 230.3 427.7 232.4 C427.6 234.4 427.6 237.1 427.5 238.1" fill="none" stroke="#1a7a3c" stroke-width="1.6" stroke-linecap="round" stroke-linejoin="round" />
<path d="M440.4 209.5 C440.8 210.3 442.5 212.4 442.8 214.3 C443.0 216.2 442.2 218.9 441.8 221.0 C441.4 223.0 440.4 225.1 440.4 226.7 C440.4 228.3 441.0 229.4 441.8 230.5 C442.6 231.6 444.6 232.9 445.1 233.3" fill="none" stroke="#1a7a3c" stroke-width="1.6" stroke-linecap="round" stroke-linejoin="round" />
<ellipse cx="418.2" cy="213.3" rx="3.2" ry="1.4" fill="#ee2222" transform="rotate(-15 418.2 213.3)"/>
<ellipse cx="426.1" cy="217.6" rx="3.2" ry="1.4" fill="#ee2222" transform="rotate(0 426.1 217.6)"/>
<ellipse cx="427.5" cy="224.3" rx="3.2" ry="1.4" fill="#ee2222" transform="rotate(-5 427.5 224.3)"/>
<ellipse cx="415.1" cy="227.6" rx="3.2" ry="1.4" fill="#ee2222" transform="rotate(0 415.1 227.6)"/>
<ellipse cx="415.6" cy="231.9" rx="3.2" ry="1.4" fill="#ee2222" transform="rotate(-5 415.6 231.9)"/>
<ellipse cx="442.3" cy="215.7" rx="3.2" ry="1.4" fill="#ee2222" transform="rotate(0 442.3 215.7)"/>
<ellipse cx="441.3" cy="226.2" rx="3.2" ry="1.4" fill="#ee2222" transform="rotate(0 441.3 226.2)"/>
<path d="M426.6 230.5 C427.3 230.2 429.7 229.7 430.9 228.6 C432.0 227.5 433.1 225.3 433.7 223.8 C434.3 222.3 434.4 220.2 434.6 219.5" fill="none" stroke="#f8b418" stroke-width="1.9"/>
<polygon points="435.0,216.2 432.4,220.2 437.2,220.4" fill="#f8b418"/>
<path d="M477.1 222.0 C478.0 220.2 478.3 214.1 482.2 211.2 C486.1 208.4 494.4 205.2 500.5 204.9 C506.6 204.6 514.6 206.3 518.8 209.2 C522.9 212.0 524.3 219.8 525.4 222.0 L525.4 222.2 C524.8 222.0 523.4 221.5 521.8 221.2 C520.2 220.9 517.8 220.4 515.7 220.4 C513.7 220.4 511.7 220.7 509.6 221.2 C507.6 221.7 505.4 222.8 503.5 223.4 C501.7 224.0 500.3 224.7 498.5 224.6 C496.6 224.5 494.4 223.6 492.4 222.9 C490.3 222.2 488.1 220.7 486.3 220.2 C484.4 219.6 482.7 219.5 481.2 219.8 C479.7 220.2 477.8 221.6 477.1 222.0 Z" fill="#fff" stroke="#2896e4" stroke-width="1.5" stroke-linejoin="round"/><path d="M477.1 226.0 C477.8 225.7 479.7 224.4 481.2 223.9 C482.7 223.5 484.4 223.2 486.3 223.4 C488.1 223.6 490.3 224.6 492.4 225.2 C494.4 225.9 496.4 227.3 498.5 227.5 C500.5 227.7 502.5 227.0 504.6 226.5 C506.6 225.9 508.6 224.7 510.7 224.2 C512.7 223.7 514.7 223.4 516.7 223.4 C518.8 223.4 521.4 223.8 522.8 224.2 C524.3 224.7 525.0 225.7 525.4 226.0 L525.4 226.0 C524.6 227.5 523.3 232.3 520.8 234.6 C518.4 236.9 514.0 238.7 510.7 239.7 C507.3 240.6 504.2 240.8 500.5 240.5 C496.8 240.1 491.7 239.0 488.3 237.6 C484.9 236.3 482.0 234.5 480.2 232.6 C478.3 230.6 477.6 227.1 477.1 226.0 Z" fill="#fff" stroke="#2896e4" stroke-width="1.5" stroke-linejoin="round"/>
<path d="M506.6 216.3 C505.4 216.5 501.2 216.6 499.5 217.3 C497.8 218.0 496.9 219.8 496.4 220.4" fill="none" stroke="#f4903c" stroke-width="1.3" stroke-linecap="round" stroke-linejoin="round" />
<path d="M479.7 228.0 C480.2 228.1 481.6 228.0 483.2 228.5 C484.8 229.0 487.3 230.5 489.3 231.0 C491.3 231.5 494.4 231.5 495.4 231.5" fill="none" stroke="#f4903c" stroke-width="1.3" stroke-linecap="round" stroke-linejoin="round" />
<path d="M500.5 237.1 C501.2 237.0 503.2 236.8 504.6 236.1 C505.9 235.4 507.3 234.2 508.6 233.1 C510.0 232.0 511.6 230.3 512.7 229.5 C513.8 228.7 514.8 228.7 515.2 228.5" fill="none" stroke="#f4903c" stroke-width="1.3" stroke-linecap="round" stroke-linejoin="round" />
<path d="M519.8 214.3 C520.2 214.9 521.9 217.2 522.3 218.3 C522.8 219.4 522.6 220.4 522.6 220.9" fill="none" stroke="#f4903c" stroke-width="1.3" stroke-linecap="round" stroke-linejoin="round" />
<path d="M521.3 225.4 C521.6 225.9 522.6 228.0 522.8 228.5" fill="none" stroke="#f4903c" stroke-width="1.3" stroke-linecap="round" stroke-linejoin="round" />
<path d="M491.8 207.1 C491.4 208.0 489.8 210.4 489.3 212.2 C488.8 214.1 488.5 216.7 488.8 218.3 C489.1 220.0 490.5 221.5 490.8 222.2" fill="none" stroke="#1a7a3c" stroke-width="1.6" stroke-linecap="round" stroke-linejoin="round" />
<path d="M494.9 226.7 C495.6 227.5 499.0 229.5 499.0 231.5 C499.0 233.5 495.6 237.5 494.9 238.7" fill="none" stroke="#1a7a3c" stroke-width="1.6" stroke-linecap="round" stroke-linejoin="round" />
<path d="M500.5 205.6 C501.1 206.4 503.3 208.6 504.0 210.2 C504.8 211.8 505.4 213.7 505.1 215.3 C504.7 216.9 502.6 218.5 502.0 219.8 C501.5 221.2 501.8 222.8 501.7 223.4" fill="none" stroke="#1a7a3c" stroke-width="1.6" stroke-linecap="round" stroke-linejoin="round" />
<path d="M504.0 227.3 C504.6 227.6 506.7 228.5 507.6 229.5 C508.5 230.6 509.8 231.9 509.6 233.6 C509.5 235.3 507.1 238.7 506.6 239.7" fill="none" stroke="#1a7a3c" stroke-width="1.6" stroke-linecap="round" stroke-linejoin="round" />
<path d="M515.7 208.2 C515.3 209.0 513.7 211.2 513.2 213.2 C512.7 215.2 512.8 219.0 512.7 220.2" fill="none" stroke="#1a7a3c" stroke-width="1.6" stroke-linecap="round" stroke-linejoin="round" />
<path d="M513.2 224.6 C513.3 225.2 513.3 226.8 513.7 228.0 C514.1 229.1 515.1 230.5 515.7 231.5 C516.4 232.6 517.4 233.7 517.8 234.1" fill="none" stroke="#1a7a3c" stroke-width="1.6" stroke-linecap="round" stroke-linejoin="round" />
<ellipse cx="489.3" cy="211.7" rx="3.2" ry="1.4" fill="#ee2222" transform="rotate(0 489.3 211.7)"/>
<ellipse cx="504.0" cy="216.3" rx="3.2" ry="1.4" fill="#ee2222" transform="rotate(0 504.0 216.3)"/>
<ellipse cx="513.7" cy="213.8" rx="3.2" ry="1.4" fill="#ee2222" transform="rotate(0 513.7 213.8)"/>
<ellipse cx="497.9" cy="231.5" rx="3.2" ry="1.4" fill="#ee2222" transform="rotate(0 497.9 231.5)"/>
<ellipse cx="495.9" cy="236.4" rx="3.2" ry="1.4" fill="#ee2222" transform="rotate(0 495.9 236.4)"/>
<ellipse cx="510.1" cy="233.1" rx="3.2" ry="1.4" fill="#ee2222" transform="rotate(-10 510.1 233.1)"/>
<ellipse cx="514.2" cy="229.0" rx="3.2" ry="1.4" fill="#ee2222" transform="rotate(-20 514.2 229.0)"/>
<ellipse cx="514.4" cy="212.6" rx="5.6" ry="5.2" fill="none" stroke="#8a28d8" stroke-width="1.4" stroke-dasharray="1.3 1.3"/>
<line x1="549.7" y1="182.9" x2="549.7" y2="234.8" stroke="#f0884a" stroke-width="1.9"/><line x1="608.3" y1="182.9" x2="608.3" y2="234.8" stroke="#f0884a" stroke-width="1.9"/>
<path d="M562 194.5 C570 193 577 192.5 582 189" fill="none" stroke="#157038" stroke-width="1.9"/>
<path d="M562 203 L596 204.8" fill="none" stroke="#157038" stroke-width="1.9"/>
<path d="M597 212.8 L562 218.6" fill="none" stroke="#157038" stroke-width="1.9"/>
<path d="M562 227 L577 232.8" fill="none" stroke="#157038" stroke-width="1.9"/>
<path d="M576.5 232.6 L584 235.3" fill="none" stroke="#f8b418" stroke-width="2.4"/>
<rect x="550.3" y="196.4" width="4" height="4.4" fill="#1c8ee8"/>
<rect x="603.8" y="206.4" width="4" height="4.4" fill="#1c8ee8"/>
<rect x="550.3" y="220.4" width="4" height="4.4" fill="#1c8ee8"/>
<ellipse cx="560.2" cy="198.6" rx="6.7" ry="5.5" fill="#a40c10"/>
<ellipse cx="598.3" cy="208.6" rx="6.7" ry="5.5" fill="#a40c10"/>
<ellipse cx="560.2" cy="222.6" rx="6.7" ry="5.5" fill="#a40c10"/>
<polygon points="579,187.6 581,184.6 585.6,184.6 587.8,187.6 585.6,190.6 581,190.6" fill="#1c8ee8"/>
</g>
<g font-family="Liberation Sans, sans-serif" font-weight="bold" font-size="10.3" fill="#1a1a1a" stroke="#1a1a1a" stroke-width="0.25" filter="url(#b05)">
<text x="294.4" y="188.8" textLength="47.2" lengthAdjust="spacingAndGlyphs">Initiating</text>
<text x="360.9" y="165.7" textLength="55.4" lengthAdjust="spacingAndGlyphs">Stretching</text>
<text x="434.9" y="166.0" textLength="55.0" lengthAdjust="spacingAndGlyphs">Fracturing</text>
<text x="414.5" y="251.6" textLength="26.8" lengthAdjust="spacingAndGlyphs">Slide</text>
<text x="482.1" y="251.6" textLength="44.4" lengthAdjust="spacingAndGlyphs">Fracture</text>
<text x="575.0" y="182.9" textLength="17.0" lengthAdjust="spacingAndGlyphs">GO</text>
<text x="588.6" y="239.5" textLength="6.4" lengthAdjust="spacingAndGlyphs">F</text>
</g>
<defs>
<filter id="tex" x="0" y="0" width="1" height="1" color-interpolation-filters="sRGB"><feTurbulence type="fractalNoise" baseFrequency="0.42" numOctaves="3" seed="4"/><feColorMatrix type="matrix" values="0.55 0 0 0 0.215  0.55 0 0 0 0.215  0.55 0 0 0 0.215  0 0 0 0 1"/><feComposite in2="SourceGraphic" operator="in"/><feGaussianBlur stdDeviation="0.55"/><feComposite in2="SourceGraphic" operator="in"/></filter>
<filter id="tex2" x="0" y="0" width="1" height="1" color-interpolation-filters="sRGB"><feTurbulence type="fractalNoise" baseFrequency="0.5" numOctaves="3" seed="9"/><feColorMatrix type="matrix" values="0.55 0 0 0 0.27  0.55 0 0 0 0.27  0.55 0 0 0 0.27  0 0 0 0 1"/><feComposite in2="SourceGraphic" operator="in"/><feGaussianBlur stdDeviation="0.55"/><feComposite in2="SourceGraphic" operator="in"/></filter>
<filter id="grain" x="0" y="0" width="1" height="1" color-interpolation-filters="sRGB"><feTurbulence type="fractalNoise" baseFrequency="0.9" numOctaves="2" seed="7"/><feColorMatrix type="matrix" values="0 0 0 0 1  0 0 0 0 1  0 0 0 0 1  0.5 0 0 0 -0.2"/><feComposite in2="SourceGraphic" operator="in"/></filter>
<filter id="b3" x="-10%" y="-40%" width="120%" height="180%"><feGaussianBlur stdDeviation="3"/></filter>
<clipPath id="ca1"><rect x="5" y="303.3" width="153.2" height="115"/></clipPath>
<clipPath id="ca2"><rect x="159.6" y="303.3" width="154.5" height="115"/></clipPath>
<clipPath id="cc1"><rect x="5" y="419.7" width="153.2" height="114.5"/></clipPath>
<clipPath id="cc2"><rect x="159.6" y="419.7" width="154.5" height="114"/></clipPath>
</defs>
<rect x="4.8" y="303" width="309.5" height="231.2" fill="#d4d4d4"/>
<g clip-path="url(#ca1)" filter="url(#b05)">
<rect x="5" y="302" width="155" height="118" fill="#525252"/>
<path d="M3.0 336.6 L5.5 338.5 L8.0 339.3 L10.5 337.8 L13.0 337.9 L15.5 337.7 L18.0 338.4 L20.5 339.4 L23.0 337.3 L25.5 335.7 L28.0 337.9 L30.5 337.7 L33.0 338.8 L35.5 336.6 L38.0 336.9 L40.5 338.2 L43.0 337.1 L45.5 339.2 L48.0 340.2 L50.5 337.5 L53.0 335.9 L55.5 336.9 L58.0 339.0 L60.5 338.2 L63.0 337.0 L65.5 337.1 L68.0 335.7 L70.5 335.5 L73.0 336.3 L75.5 336.9 L78.0 336.3 L80.5 336.0 L83.0 335.7 L85.5 336.5 L88.0 336.3 L90.5 335.1 L93.0 337.6 L95.5 338.0 L98.0 338.5 L100.5 337.1 L103.0 339.4 L105.5 340.2 L108.0 337.9 L110.5 337.3 L113.0 338.4 L115.5 339.1 L118.0 340.3 L120.5 339.1 L123.0 339.9 L125.5 339.8 L128.0 338.3 L130.5 338.5 L133.0 339.8 L135.5 340.4 L138.0 339.5 L140.5 339.2 L143.0 336.9 L145.5 336.4 L148.0 338.2 L150.5 337.8 L153.0 336.6 L155.5 337.4 L158.0 338.4 L160.5 338.9 L160.5 387.1 L158.0 387.7 L155.5 389.4 L153.0 390.4 L150.5 390.5 L148.0 389.2 L145.5 389.5 L143.0 390.9 L140.5 390.0 L138.0 388.6 L135.5 390.1 L133.0 389.2 L130.5 390.0 L128.0 388.4 L125.5 388.7 L123.0 388.9 L120.5 389.8 L118.0 389.5 L115.5 388.7 L113.0 391.5 L110.5 390.7 L108.0 389.2 L105.5 390.9 L103.0 390.9 L100.5 391.0 L98.0 390.2 L95.5 390.0 L93.0 389.3 L90.5 387.5 L88.0 389.4 L85.5 389.1 L83.0 386.3 L80.5 385.2 L78.0 385.8 L75.5 385.6 L73.0 387.2 L70.5 388.5 L68.0 388.5 L65.5 388.6 L63.0 386.3 L60.5 386.0 L58.0 385.9 L55.5 384.8 L53.0 385.9 L50.5 387.7 L48.0 389.0 L45.5 390.1 L43.0 391.2 L40.5 390.3 L38.0 388.4 L35.5 387.0 L33.0 387.1 L30.5 387.0 L28.0 388.8 L25.5 388.7 L23.0 388.5 L20.5 388.1 L18.0 389.4 L15.5 389.2 L13.0 388.3 L10.5 386.2 L8.0 388.0 L5.5 391.0 L3.0 389.9 Z" fill="#888" filter="url(#tex)"/>
<path d="M3.0 336.6 L5.5 338.5 L8.0 339.3 L10.5 337.8 L13.0 337.9 L15.5 337.7 L18.0 338.4 L20.5 339.4 L23.0 337.3 L25.5 335.7 L28.0 337.9 L30.5 337.7 L33.0 338.8 L35.5 336.6 L38.0 336.9 L40.5 338.2 L43.0 337.1 L45.5 339.2 L48.0 340.2 L50.5 337.5 L53.0 335.9 L55.5 336.9 L58.0 339.0 L60.5 338.2 L63.0 337.0 L65.5 337.1 L68.0 335.7 L70.5 335.5 L73.0 336.3 L75.5 336.9 L78.0 336.3 L80.5 336.0 L83.0 335.7 L85.5 336.5 L88.0 336.3 L90.5 335.1 L93.0 337.6 L95.5 338.0 L98.0 338.5 L100.5 337.1 L103.0 339.4 L105.5 340.2 L108.0 337.9 L110.5 337.3 L113.0 338.4 L115.5 339.1 L118.0 340.3 L120.5 339.1 L123.0 339.9 L125.5 339.8 L128.0 338.3 L130.5 338.5 L133.0 339.8 L135.5 340.4 L138.0 339.5 L140.5 339.2 L143.0 336.9 L145.5 336.4 L148.0 338.2 L150.5 337.8 L153.0 336.6 L155.5 337.4 L158.0 338.4 L160.5 338.9" fill="none" stroke="#cfcfcf" stroke-width="0.9" opacity="0.8"/>
<path d="M3.0 389.9 L5.5 391.0 L8.0 388.0 L10.5 386.2 L13.0 388.3 L15.5 389.2 L18.0 389.4 L20.5 388.1 L23.0 388.5 L25.5 388.7 L28.0 388.8 L30.5 387.0 L33.0 387.1 L35.5 387.0 L38.0 388.4 L40.5 390.3 L43.0 391.2 L45.5 390.1 L48.0 389.0 L50.5 387.7 L53.0 385.9 L55.5 384.8 L58.0 385.9 L60.5 386.0 L63.0 386.3 L65.5 388.6 L68.0 388.5 L70.5 388.5 L73.0 387.2 L75.5 385.6 L78.0 385.8 L80.5 385.2 L83.0 386.3 L85.5 389.1 L88.0 389.4 L90.5 387.5 L93.0 389.3 L95.5 390.0 L98.0 390.2 L100.5 391.0 L103.0 390.9 L105.5 390.9 L108.0 389.2 L110.5 390.7 L113.0 391.5 L115.5 388.7 L118.0 389.5 L120.5 389.8 L123.0 388.9 L125.5 388.7 L128.0 388.4 L130.5 390.0 L133.0 389.2 L135.5 390.1 L138.0 388.6 L140.5 390.0 L143.0 390.9 L145.5 389.5 L148.0 389.2 L150.5 390.5 L153.0 390.4 L155.5 389.4 L158.0 387.7 L160.5 387.1" fill="none" stroke="#f0f0f0" stroke-width="1.2"/>
<path d="M42.0 370.0 C42.3 371.3 43.3 375.7 44.0 378.0 C44.7 380.3 45.5 382.2 46.0 384.0 C46.5 385.8 46.8 388.2 47.0 389.0" fill="none" stroke="#f0f0f0" stroke-width="1.15" stroke-linecap="round" stroke-linejoin="round" />
<path d="M66.0 364.0 C66.8 364.8 69.3 367.0 71.0 369.0 C72.7 371.0 75.8 374.5 76.0 376.0 C76.2 377.5 72.7 377.7 72.0 378.0" fill="none" stroke="#f0f0f0" stroke-width="1.15" stroke-linecap="round" stroke-linejoin="round" />
<path d="M82.0 340.0 C82.5 341.0 84.0 344.3 85.0 346.0 C86.0 347.7 86.7 349.8 88.0 350.0 C89.3 350.2 92.2 347.5 93.0 347.0" fill="none" stroke="#f0f0f0" stroke-width="1.15" stroke-linecap="round" stroke-linejoin="round" />
<path d="M112.0 360.0 C112.2 361.7 112.2 366.7 113.0 370.0 C113.8 373.3 115.8 377.3 117.0 380.0 C118.2 382.7 119.5 385.0 120.0 386.0" fill="none" stroke="#f0f0f0" stroke-width="1.15" stroke-linecap="round" stroke-linejoin="round" />
<path d="M122.0 376.0 C122.8 376.8 125.3 379.5 127.0 381.0 C128.7 382.5 131.2 384.3 132.0 385.0" fill="none" stroke="#f0f0f0" stroke-width="1.15" stroke-linecap="round" stroke-linejoin="round" />
<path d="M8.0 340.0 C8.7 340.3 10.7 342.0 12.0 342.0 C13.3 342.0 15.3 340.3 16.0 340.0" fill="none" stroke="#f0f0f0" stroke-width="1.15" stroke-linecap="round" stroke-linejoin="round" />
<path d="M96.0 338.0 C96.7 338.7 98.7 341.7 100.0 342.0 C101.3 342.3 103.3 340.3 104.0 340.0" fill="none" stroke="#f0f0f0" stroke-width="1.15" stroke-linecap="round" stroke-linejoin="round" />
<ellipse cx="30" cy="358" rx="12" ry="7" fill="#5c5c5c" opacity="0.45"/>
<ellipse cx="66" cy="358" rx="9" ry="8" fill="#5c5c5c" opacity="0.45"/>
<ellipse cx="100" cy="352" rx="12" ry="6" fill="#5c5c5c" opacity="0.45"/>
<ellipse cx="128" cy="366" rx="8" ry="9" fill="#5c5c5c" opacity="0.45"/>
<ellipse cx="88" cy="376" rx="10" ry="5" fill="#5c5c5c" opacity="0.45"/>
</g>
<g clip-path="url(#ca2)" filter="url(#b05)">
<rect x="158" y="302" width="157" height="118" fill="#686868"/>
<rect x="158" y="302" width="157" height="118" fill="#fff" filter="url(#grain)" opacity="0.35"/>
<g filter="url(#b05)">
<path d="M226.5 367.8 C226.4 368.1 226.4 368.8 226.3 369.3 C226.1 369.9 226.1 370.8 225.5 371.1 C225.0 371.4 223.8 371.0 223.0 371.1 C222.2 371.1 221.6 371.2 221.0 371.1 C220.3 371.1 219.4 370.9 219.0 370.6 C218.6 370.2 218.9 369.5 218.6 369.0 C218.3 368.5 217.5 368.3 217.4 367.8 C217.2 367.3 217.3 366.7 217.6 366.2 C217.8 365.7 218.1 364.9 218.7 364.7 C219.3 364.5 220.5 365.2 221.2 365.2 C221.9 365.3 222.4 364.8 222.9 364.9 C223.4 364.9 223.6 365.5 224.2 365.8 C224.9 366.0 226.5 365.7 226.9 366.1 C227.2 366.4 226.5 367.5 226.5 367.8 Z" fill="#747474" stroke="#c4c4c4" stroke-width="1.1" stroke-linejoin="round"/>
<path d="M231.7 372.5 C231.7 372.8 231.8 373.6 231.6 374.1 C231.5 374.6 231.1 375.2 230.7 375.4 C230.3 375.6 229.5 375.2 229.1 375.2 C228.6 375.1 228.4 374.9 228.0 374.9 C227.6 374.9 227.0 375.2 226.6 375.0 C226.3 374.8 226.3 374.2 226.0 373.8 C225.7 373.4 224.9 373.0 224.7 372.5 C224.6 372.0 225.0 371.3 225.3 370.9 C225.6 370.4 226.0 370.0 226.4 369.7 C226.8 369.4 227.3 369.2 227.8 369.1 C228.2 368.9 228.9 368.7 229.3 368.9 C229.7 369.1 229.8 370.0 230.1 370.4 C230.4 370.7 231.0 370.7 231.3 371.1 C231.5 371.4 231.6 372.3 231.7 372.5 Z" fill="#6e6e6e" stroke="#b0b0b0" stroke-width="0.9" stroke-linejoin="round"/>
<path d="M261.3 367.8 C261.4 368.1 262.6 369.2 262.4 369.8 C262.1 370.4 260.8 370.9 259.8 371.4 C258.8 371.9 257.5 372.7 256.2 372.7 C255.0 372.7 253.6 371.5 252.5 371.2 C251.3 370.8 250.3 370.9 249.6 370.6 C248.8 370.3 248.4 369.7 247.9 369.3 C247.5 368.8 247.3 368.4 246.9 367.8 C246.5 367.2 244.9 366.2 245.4 365.7 C245.9 365.3 248.7 365.5 249.8 365.2 C251.0 364.8 251.1 363.8 252.1 363.6 C253.1 363.5 254.5 364.2 255.6 364.4 C256.7 364.6 257.7 364.6 258.6 364.9 C259.6 365.2 260.8 365.6 261.3 366.0 C261.7 366.5 261.3 367.5 261.3 367.8 Z" fill="#747474" stroke="#cfcfcf" stroke-width="1.2" stroke-linejoin="round"/>
<path d="M258.5 367.0 C258.7 367.2 259.6 367.7 259.5 368.0 C259.4 368.2 258.6 368.5 258.0 368.7 C257.5 368.9 256.9 369.4 256.2 369.4 C255.6 369.4 254.7 368.9 254.1 368.7 C253.5 368.5 253.2 368.5 252.6 368.3 C252.0 368.2 250.8 368.2 250.4 368.0 C250.0 367.8 249.9 367.3 250.1 367.0 C250.3 366.7 251.1 366.5 251.4 366.2 C251.7 365.9 251.5 365.5 251.9 365.3 C252.3 365.1 253.3 365.3 254.1 365.2 C254.8 365.1 255.6 364.6 256.2 364.7 C256.7 364.8 256.8 365.5 257.2 365.8 C257.6 366.0 258.2 366.1 258.4 366.3 C258.6 366.5 258.5 366.9 258.5 367.0 Z" fill="#666" stroke="#999" stroke-width="0.6" stroke-linejoin="round"/>
</g>
<ellipse cx="297" cy="362" rx="2.5" ry="3.5" fill="#7a7a7a" opacity="0.7"/>
</g>
<g clip-path="url(#cc1)" filter="url(#b05)">
<rect x="5" y="419" width="155" height="116" fill="#4c4c4c"/>
<path d="M3.0 450.7 L5.5 451.2 L8.0 451.7 L10.5 452.4 L13.0 452.3 L15.5 452.7 L18.0 450.4 L20.5 450.2 L23.0 451.5 L25.5 451.5 L28.0 452.2 L30.5 450.3 L33.0 450.2 L35.5 449.5 L38.0 450.0 L40.5 450.3 L43.0 448.9 L45.5 448.6 L48.0 448.7 L50.5 450.5 L53.0 451.2 L55.5 449.9 L58.0 450.9 L60.5 449.6 L63.0 450.2 L65.5 449.2 L68.0 448.2 L70.5 450.1 L73.0 449.3 L75.5 448.9 L78.0 450.9 L80.5 451.7 L83.0 450.5 L85.5 451.8 L88.0 451.3 L90.5 451.4 L93.0 450.1 L95.5 451.5 L98.0 451.5 L100.5 452.4 L103.0 452.7 L105.5 451.2 L108.0 450.4 L110.5 449.4 L113.0 448.7 L115.5 448.1 L118.0 448.4 L120.5 449.5 L123.0 448.4 L125.5 449.7 L128.0 449.4 L130.5 449.2 L133.0 450.6 L135.5 450.4 L138.0 449.8 L140.5 450.0 L143.0 450.7 L145.5 449.3 L148.0 451.0 L150.5 449.4 L153.0 450.5 L155.5 451.4 L158.0 449.6 L160.5 450.7 L160.5 495.8 L158.0 498.3 L155.5 496.2 L153.0 499.0 L150.5 498.0 L148.0 495.1 L145.5 495.5 L143.0 496.7 L140.5 495.9 L138.0 497.0 L135.5 497.9 L133.0 496.5 L130.5 498.5 L128.0 498.6 L125.5 496.0 L123.0 497.9 L120.5 497.1 L118.0 498.1 L115.5 497.4 L113.0 498.1 L110.5 501.9 L108.0 500.7 L105.5 500.0 L103.0 499.8 L100.5 499.9 L98.0 501.0 L95.5 499.8 L93.0 497.5 L90.5 498.3 L88.0 497.3 L85.5 499.2 L83.0 499.3 L80.5 496.5 L78.0 497.2 L75.5 495.7 L73.0 496.5 L70.5 498.8 L68.0 499.8 L65.5 498.6 L63.0 496.5 L60.5 498.8 L58.0 500.6 L55.5 499.7 L53.0 499.3 L50.5 497.7 L48.0 499.4 L45.5 497.8 L43.0 497.3 L40.5 499.2 L38.0 498.6 L35.5 498.7 L33.0 499.8 L30.5 499.2 L28.0 497.7 L25.5 499.2 L23.0 497.9 L20.5 498.9 L18.0 497.4 L15.5 497.2 L13.0 495.4 L10.5 497.7 L8.0 499.4 L5.5 500.4 L3.0 499.4 Z" fill="#999" filter="url(#tex2)"/>
<path d="M3.0 450.7 L5.5 451.2 L8.0 451.7 L10.5 452.4 L13.0 452.3 L15.5 452.7 L18.0 450.4 L20.5 450.2 L23.0 451.5 L25.5 451.5 L28.0 452.2 L30.5 450.3 L33.0 450.2 L35.5 449.5 L38.0 450.0 L40.5 450.3 L43.0 448.9 L45.5 448.6 L48.0 448.7 L50.5 450.5 L53.0 451.2 L55.5 449.9 L58.0 450.9 L60.5 449.6 L63.0 450.2 L65.5 449.2 L68.0 448.2 L70.5 450.1 L73.0 449.3 L75.5 448.9 L78.0 450.9 L80.5 451.7 L83.0 450.5 L85.5 451.8 L88.0 451.3 L90.5 451.4 L93.0 450.1 L95.5 451.5 L98.0 451.5 L100.5 452.4 L103.0 452.7 L105.5 451.2 L108.0 450.4 L110.5 449.4 L113.0 448.7 L115.5 448.1 L118.0 448.4 L120.5 449.5 L123.0 448.4 L125.5 449.7 L128.0 449.4 L130.5 449.2 L133.0 450.6 L135.5 450.4 L138.0 449.8 L140.5 450.0 L143.0 450.7 L145.5 449.3 L148.0 451.0 L150.5 449.4 L153.0 450.5 L155.5 451.4 L158.0 449.6 L160.5 450.7" fill="none" stroke="#e0e0e0" stroke-width="0.9"/>
<path d="M3.0 499.4 L5.5 500.4 L8.0 499.4 L10.5 497.7 L13.0 495.4 L15.5 497.2 L18.0 497.4 L20.5 498.9 L23.0 497.9 L25.5 499.2 L28.0 497.7 L30.5 499.2 L33.0 499.8 L35.5 498.7 L38.0 498.6 L40.5 499.2 L43.0 497.3 L45.5 497.8 L48.0 499.4 L50.5 497.7 L53.0 499.3 L55.5 499.7 L58.0 500.6 L60.5 498.8 L63.0 496.5 L65.5 498.6 L68.0 499.8 L70.5 498.8 L73.0 496.5 L75.5 495.7 L78.0 497.2 L80.5 496.5 L83.0 499.3 L85.5 499.2 L88.0 497.3 L90.5 498.3 L93.0 497.5 L95.5 499.8 L98.0 501.0 L100.5 499.9 L103.0 499.8 L105.5 500.0 L108.0 500.7 L110.5 501.9 L113.0 498.1 L115.5 497.4 L118.0 498.1 L120.5 497.1 L123.0 497.9 L125.5 496.0 L128.0 498.6 L130.5 498.5 L133.0 496.5 L135.5 497.9 L138.0 497.0 L140.5 495.9 L143.0 496.7 L145.5 495.5 L148.0 495.1 L150.5 498.0 L153.0 499.0 L155.5 496.2 L158.0 498.3 L160.5 495.8" fill="none" stroke="#f4f4f4" stroke-width="1.3"/>
<path d="M26.0 499.0 C26.3 499.8 27.2 502.7 28.0 504.0 C28.8 505.3 30.7 507.2 31.0 507.0 C31.3 506.8 30.2 503.7 30.0 503.0" fill="none" stroke="#f0f0f0" stroke-width="1.6" stroke-linecap="round" stroke-linejoin="round" />
<path d="M122.0 491.0 C122.5 490.5 124.2 487.7 125.0 488.0 C125.8 488.3 126.7 492.2 127.0 493.0" fill="none" stroke="#e8e8e8" stroke-width="1.2" stroke-linecap="round" stroke-linejoin="round" />
</g>
<g clip-path="url(#cc2)" filter="url(#b08)">
<rect x="158" y="419" width="157" height="116" fill="#535353"/>
<rect x="158" y="419" width="157" height="116" fill="#fff" filter="url(#grain)" opacity="0.3"/>
<rect x="150" y="468" width="175" height="26" fill="#5c5c5c" opacity="0.55" filter="url(#b3)"/>
<path d="M166.7 479.0 C166.6 479.7 166.2 482.0 166.0 483.3 C165.7 484.7 165.5 486.0 165.1 487.1 C164.8 488.2 164.3 489.8 163.8 489.8 C163.4 489.7 162.9 487.1 162.4 486.6 C162.0 486.1 161.4 487.0 161.0 486.6 C160.5 486.1 160.0 485.1 159.7 483.8 C159.4 482.5 159.3 480.5 159.4 479.0 C159.5 477.5 159.8 475.9 160.2 474.9 C160.5 474.0 161.1 474.0 161.5 473.3 C161.8 472.6 162.0 471.6 162.4 470.7 C162.8 469.7 163.5 467.3 163.9 467.8 C164.2 468.3 164.2 472.2 164.5 473.5 C164.7 474.8 165.1 474.6 165.4 475.5 C165.8 476.4 166.5 478.4 166.7 479.0 Z" fill="#b0b0b0" stroke="#e8e8e8" stroke-width="0.9" stroke-linejoin="round"/>
<path d="M176.8 481.0 C177.0 481.6 177.6 483.4 177.5 484.4 C177.4 485.3 176.8 486.3 176.3 486.9 C175.9 487.5 175.3 487.8 174.8 487.7 C174.3 487.7 173.9 486.8 173.3 486.7 C172.8 486.7 172.0 487.7 171.5 487.4 C171.0 487.0 170.5 485.6 170.3 484.6 C170.1 483.5 170.4 482.1 170.5 481.0 C170.6 479.9 170.6 478.7 170.8 478.0 C171.1 477.2 171.7 476.6 172.1 476.3 C172.6 476.0 173.0 476.4 173.4 476.1 C173.9 475.8 174.2 474.8 174.7 474.7 C175.2 474.5 176.0 474.6 176.3 475.3 C176.6 475.9 176.3 477.7 176.4 478.7 C176.5 479.7 176.8 480.6 176.8 481.0 Z" fill="#c8c8c8" stroke="#f4f4f4" stroke-width="0.9" stroke-linejoin="round"/>
<path d="M177.5 492.0 C177.0 492.1 175.1 492.6 174.3 492.8 C173.5 493.0 173.2 492.9 172.7 493.3 C172.3 493.6 172.3 494.7 171.7 494.7 C171.1 494.8 169.7 494.0 168.9 493.8 C168.1 493.5 167.8 493.5 167.1 493.4 C166.3 493.2 164.6 493.3 164.1 493.0 C163.7 492.8 164.6 492.4 164.5 492.0 C164.4 491.6 163.0 491.1 163.4 490.8 C163.8 490.6 166.0 490.8 166.8 490.5 C167.6 490.3 167.6 489.4 168.3 489.3 C169.1 489.2 170.3 489.9 171.2 490.1 C172.1 490.2 173.0 490.1 174.0 490.2 C174.9 490.3 176.1 490.5 176.7 490.8 C177.3 491.1 177.4 491.8 177.5 492.0 Z" fill="#e8e8e8" stroke="#fff" stroke-width="0.9" stroke-linejoin="round"/>
<path d="M183.0 494.0 C183.5 493.0 184.5 489.7 186.0 488.0 C187.5 486.3 189.8 485.3 192.0 484.0 C194.2 482.7 197.0 481.0 199.0 480.0 C201.0 479.0 203.2 478.3 204.0 478.0" fill="none" stroke="#dcdcdc" stroke-width="1.6" stroke-linecap="round" stroke-linejoin="round" />
<path d="M217.2 480.0 C217.1 480.6 217.1 482.7 216.7 483.8 C216.3 484.9 215.7 486.4 215.0 486.7 C214.3 486.9 213.0 485.1 212.3 485.2 C211.5 485.3 211.0 487.2 210.4 487.2 C209.8 487.2 209.3 485.9 208.8 485.2 C208.2 484.6 207.4 484.0 207.3 483.1 C207.1 482.2 207.7 480.9 207.9 480.0 C208.0 479.1 207.9 478.4 208.1 477.5 C208.2 476.6 208.3 475.2 208.7 474.7 C209.1 474.2 210.0 474.5 210.6 474.2 C211.3 474.0 212.0 473.1 212.5 473.3 C213.0 473.6 213.2 475.3 213.6 476.0 C214.0 476.7 214.1 477.0 214.7 477.7 C215.3 478.3 216.8 479.6 217.2 480.0 Z" fill="#626262" stroke="#d8d8d8" stroke-width="0.9" stroke-linejoin="round"/>
<path d="M235.6 481.0 C235.6 481.6 235.8 483.9 235.4 484.6 C235.1 485.4 234.1 484.6 233.6 485.5 C233.2 486.4 233.3 489.5 232.9 489.7 C232.5 489.9 231.9 487.1 231.4 486.7 C230.9 486.2 230.1 487.5 229.8 487.0 C229.5 486.4 230.0 484.3 229.8 483.3 C229.5 482.3 228.4 481.8 228.3 481.0 C228.3 480.2 229.4 479.6 229.7 478.6 C229.9 477.5 229.5 475.8 229.8 474.9 C230.0 474.0 230.7 473.6 231.2 473.3 C231.7 473.0 232.4 472.8 232.8 473.2 C233.3 473.6 233.5 475.0 233.9 475.7 C234.4 476.4 235.2 476.5 235.5 477.3 C235.7 478.2 235.6 480.4 235.6 481.0 Z" fill="#606060" stroke="#d8d8d8" stroke-width="0.9" stroke-linejoin="round"/>
<path d="M242.3 480.0 C242.4 480.4 242.9 481.9 242.8 482.7 C242.7 483.5 242.2 484.4 241.9 484.7 C241.5 484.9 240.9 483.9 240.5 484.1 C240.0 484.3 239.7 485.9 239.3 485.9 C239.0 485.9 238.5 484.9 238.3 484.2 C238.2 483.5 238.6 482.3 238.3 481.6 C238.1 480.9 236.9 480.6 236.9 480.0 C236.8 479.4 237.8 478.7 238.1 478.1 C238.3 477.5 238.4 477.0 238.6 476.5 C238.8 476.0 239.1 475.6 239.5 475.3 C239.8 475.1 240.3 474.6 240.6 474.9 C240.9 475.1 240.9 476.5 241.2 476.9 C241.5 477.4 242.3 477.1 242.5 477.6 C242.7 478.1 242.4 479.6 242.3 480.0 Z" fill="#5e5e5e" stroke="#d8d8d8" stroke-width="0.9" stroke-linejoin="round"/>
<path d="M255.1 478.5 C254.8 479.0 253.8 480.4 253.4 481.2 C252.9 482.0 252.7 482.6 252.3 483.4 C252.0 484.2 251.6 486.1 251.1 486.2 C250.5 486.3 250.0 484.2 249.2 484.0 C248.5 483.8 247.4 485.6 246.8 485.3 C246.1 485.0 245.4 483.4 245.3 482.2 C245.3 481.1 246.6 479.7 246.7 478.5 C246.7 477.3 245.4 475.9 245.5 474.9 C245.6 473.9 246.6 473.3 247.2 472.6 C247.8 471.9 248.2 471.2 248.9 470.6 C249.6 470.1 250.5 469.3 251.3 469.3 C252.0 469.4 253.1 470.0 253.6 471.0 C254.0 472.1 253.6 474.2 253.8 475.4 C254.1 476.7 254.9 478.0 255.1 478.5 Z" fill="#646464" stroke="#d8d8d8" stroke-width="0.9" stroke-linejoin="round"/>
<path d="M261.8 479.0 C261.7 479.6 261.7 481.2 261.5 482.4 C261.3 483.5 261.2 485.5 260.7 485.9 C260.3 486.3 259.2 484.9 258.6 484.7 C258.1 484.4 257.9 484.0 257.4 484.2 C256.9 484.3 255.8 485.9 255.4 485.5 C255.0 485.1 255.3 482.8 255.1 481.8 C255.0 480.7 254.9 480.1 254.8 479.0 C254.6 477.9 254.0 476.2 254.3 475.4 C254.5 474.7 255.7 475.3 256.2 474.5 C256.7 473.7 256.6 471.0 257.0 470.6 C257.5 470.2 258.3 471.5 258.8 472.2 C259.2 472.9 259.1 474.3 259.7 474.8 C260.2 475.3 261.5 474.6 261.9 475.3 C262.2 475.9 261.8 478.4 261.8 479.0 Z" fill="#606060" stroke="#d8d8d8" stroke-width="0.9" stroke-linejoin="round"/>
<path d="M280.6 485.0 C280.6 485.4 280.4 486.6 280.4 487.6 C280.3 488.6 280.5 490.6 280.1 491.2 C279.8 491.8 278.8 491.1 278.2 491.0 C277.7 490.9 277.3 490.8 276.8 490.8 C276.3 490.8 275.5 491.2 275.1 490.7 C274.6 490.3 274.2 489.1 274.1 488.1 C273.9 487.1 274.1 486.0 274.1 485.0 C274.2 484.0 274.1 483.1 274.1 481.9 C274.2 480.8 274.1 478.5 274.5 478.0 C275.0 477.6 276.2 479.0 276.8 479.2 C277.4 479.4 277.8 478.7 278.2 479.0 C278.7 479.2 278.9 480.1 279.3 480.7 C279.7 481.2 280.4 481.5 280.6 482.2 C280.8 482.9 280.6 484.5 280.6 485.0 Z" fill="#606060" stroke="#d8d8d8" stroke-width="0.9" stroke-linejoin="round"/>
<path d="M304.1 477.0 C304.0 477.5 303.4 478.7 303.2 479.8 C303.0 480.9 303.3 483.0 302.8 483.5 C302.4 484.1 301.1 483.0 300.4 483.0 C299.7 483.1 299.1 484.0 298.5 483.9 C297.9 483.7 297.4 482.7 296.9 482.0 C296.5 481.3 296.2 480.7 295.6 479.9 C295.1 479.1 293.7 477.9 293.8 477.0 C293.9 476.1 295.8 475.5 296.3 474.6 C296.8 473.8 296.4 472.3 296.8 471.7 C297.2 471.1 298.0 471.4 298.7 471.2 C299.3 471.1 299.7 471.0 300.4 470.8 C301.2 470.5 302.6 469.4 303.1 470.0 C303.5 470.6 303.0 473.1 303.2 474.3 C303.3 475.4 304.0 476.5 304.1 477.0 Z" fill="#666666" stroke="#d8d8d8" stroke-width="0.9" stroke-linejoin="round"/>
<path d="M311.6 477.0 C311.5 477.4 311.2 478.9 310.9 479.5 C310.6 480.1 310.2 480.0 309.9 480.7 C309.6 481.5 309.5 483.6 309.2 483.9 C308.9 484.1 308.3 482.7 307.9 482.3 C307.6 481.9 307.2 481.8 306.9 481.4 C306.6 480.9 306.2 480.4 306.0 479.7 C305.7 478.9 305.4 478.0 305.3 477.0 C305.1 476.0 304.8 474.2 305.1 473.4 C305.3 472.6 306.2 472.8 306.7 472.0 C307.1 471.3 307.2 469.4 307.6 468.9 C308.1 468.4 308.9 468.3 309.4 468.9 C309.8 469.5 309.9 471.7 310.1 472.7 C310.3 473.6 310.3 474.1 310.6 474.9 C310.8 475.6 311.4 476.6 311.6 477.0 Z" fill="#b8b8b8" stroke="#f0f0f0" stroke-width="0.9" stroke-linejoin="round"/>
<circle cx="257.6" cy="424.7" r="0.7" fill="#d8d8d8"/>
<circle cx="199.2" cy="437.2" r="0.5" fill="#d8d8d8"/>
<circle cx="263.2" cy="519.2" r="0.5" fill="#d8d8d8"/>
<circle cx="250.4" cy="425.5" r="0.5" fill="#d8d8d8"/>
<circle cx="195.4" cy="477.1" r="0.5" fill="#d8d8d8"/>
<circle cx="246.1" cy="500.0" r="1.2" fill="#d8d8d8"/>
<circle cx="225.1" cy="471.0" r="0.7" fill="#d8d8d8"/>
<circle cx="282.8" cy="422.7" r="0.6" fill="#d8d8d8"/>
<circle cx="266.3" cy="459.1" r="0.6" fill="#d8d8d8"/>
<circle cx="194.9" cy="505.2" r="0.5" fill="#d8d8d8"/>
<circle cx="176.7" cy="432.5" r="0.7" fill="#d8d8d8"/>
<circle cx="252.4" cy="510.0" r="0.9" fill="#d8d8d8"/>
<circle cx="242.4" cy="528.1" r="0.9" fill="#d8d8d8"/>
<circle cx="174.7" cy="454.0" r="1.2" fill="#d8d8d8"/>
<circle cx="294.0" cy="461.4" r="0.6" fill="#d8d8d8"/>
<circle cx="267.3" cy="427.0" r="0.6" fill="#d8d8d8"/>
<circle cx="277.4" cy="529.4" r="0.6" fill="#d8d8d8"/>
<circle cx="291.2" cy="463.4" r="0.9" fill="#d8d8d8"/>
<circle cx="257.1" cy="461.8" r="0.7" fill="#d8d8d8"/>
<circle cx="215.6" cy="495.0" r="0.5" fill="#d8d8d8"/>
<circle cx="253.2" cy="440.7" r="0.6" fill="#d8d8d8"/>
<circle cx="187.2" cy="463.4" r="1.2" fill="#d8d8d8"/>
<circle cx="195.5" cy="457.3" r="0.5" fill="#d8d8d8"/>
<circle cx="196.9" cy="425.5" r="0.7" fill="#d8d8d8"/>
<circle cx="222.4" cy="429.2" r="1.2" fill="#d8d8d8"/>
<circle cx="292.7" cy="456.3" r="0.9" fill="#d8d8d8"/>
<circle cx="269.5" cy="495" r="1.6" fill="#f0f0f0"/><circle cx="291" cy="433" r="1.5" fill="#bbb"/>
</g>
<circle cx="38.2" cy="326.6" r="1" fill="#f0f0f0"/>
<g font-family="Liberation Sans, sans-serif" font-weight="bold" fill="#fff" stroke="#fff" stroke-width="0.2" filter="url(#b05)">
<text x="11.1" y="323.0" font-size="16.5" textLength="26.6" lengthAdjust="spacingAndGlyphs">(a1)</text>
<text x="48.4" y="331.2" font-size="16.6" textLength="77.2" lengthAdjust="spacingAndGlyphs">GCr15 ball</text>
<text x="121.0" y="411.0" font-size="10.8" textLength="34.9" lengthAdjust="spacingAndGlyphs">100 µm</text>
<line x1="66.7" y1="312.4" x2="101.7" y2="312.4" stroke="#fff" stroke-width="2.2"/><polygon points="106.7,312.4 98.9,308.5 98.9,316.3" fill="#fff" stroke="none"/>
<line x1="131.7" y1="414.1" x2="145.1" y2="414.1" stroke="#fff" stroke-width="2.1"/>
<text x="169.4" y="322.5" font-size="16.5" textLength="26.6" lengthAdjust="spacingAndGlyphs">(a2)</text>
<text x="200.6" y="330.9" font-size="16.6" textLength="77.7" lengthAdjust="spacingAndGlyphs">GCr15 ball</text>
<text x="277.6" y="410.8" font-size="10.8" textLength="34.8" lengthAdjust="spacingAndGlyphs">100 µm</text>
<line x1="219.4" y1="311.8" x2="254.0" y2="311.8" stroke="#fff" stroke-width="2.2"/><polygon points="259.0,311.8 251.2,307.9 251.2,315.7" fill="#fff" stroke="none"/>
<line x1="288.4" y1="414.2" x2="301.4" y2="414.2" stroke="#fff" stroke-width="2.1"/>
<text x="14.4" y="438.9" font-size="16.5" textLength="26.6" lengthAdjust="spacingAndGlyphs">(c1)</text>
<text x="47.1" y="447.8" font-size="16.6" textLength="76.2" lengthAdjust="spacingAndGlyphs">GCr15 ball</text>
<text x="122.0" y="529.2" font-size="10.8" textLength="34.0" lengthAdjust="spacingAndGlyphs">100 µm</text>
<line x1="66.7" y1="427.1" x2="101.7" y2="427.1" stroke="#fff" stroke-width="2.2"/><polygon points="106.7,427.1 98.9,423.2 98.9,431.0" fill="#fff" stroke="none"/>
<line x1="132.6" y1="532.0" x2="145.6" y2="532.0" stroke="#fff" stroke-width="2.1"/>
<text x="167.2" y="439.3" font-size="16.5" textLength="26.6" lengthAdjust="spacingAndGlyphs">(c2)</text>
<text x="200.6" y="447.8" font-size="16.6" textLength="77.7" lengthAdjust="spacingAndGlyphs">GCr15 ball</text>
<text x="277.4" y="529.0" font-size="10.8" textLength="34.6" lengthAdjust="spacingAndGlyphs">100 µm</text>
<line x1="219.4" y1="426.7" x2="254.0" y2="426.7" stroke="#fff" stroke-width="2.2"/><polygon points="259.0,426.7 251.2,422.8 251.2,430.6" fill="#fff" stroke="none"/>
<line x1="288.4" y1="532.0" x2="301.6" y2="532.0" stroke="#fff" stroke-width="2.1"/>
</g>
<defs>
<linearGradient id="bpg" x1="0" y1="0" x2="0" y2="1"><stop offset="0" stop-color="#eef6fb"/><stop offset="0.3" stop-color="#e2f0fa"/><stop offset="0.55" stop-color="#cfe6f8"/><stop offset="0.8" stop-color="#c0dff5"/><stop offset="1" stop-color="#b4d8f3"/></linearGradient>
<linearGradient id="gb1" x1="0" y1="0" x2="0" y2="1"><stop offset="0" stop-color="#dadee1"/><stop offset="0.2" stop-color="#c8c9ca"/><stop offset="0.55" stop-color="#9a9a9a"/><stop offset="0.85" stop-color="#646464"/><stop offset="1" stop-color="#505050"/></linearGradient>
<radialGradient id="bg1" cx="0.44" cy="0.45" r="0.6" fx="0.4" fy="0.43"><stop offset="0" stop-color="#e0e0e0"/><stop offset="0.45" stop-color="#cecece"/><stop offset="0.7" stop-color="#acacac"/><stop offset="0.85" stop-color="#7c7c7c"/><stop offset="0.95" stop-color="#4a4a4a"/><stop offset="1" stop-color="#2e2e2e"/></radialGradient>
<linearGradient id="bg2" x1="0.1" y1="0.1" x2="0.9" y2="0.9"><stop offset="0" stop-color="#000" stop-opacity="0.17"/><stop offset="0.45" stop-color="#000" stop-opacity="0"/><stop offset="0.8" stop-color="#fff" stop-opacity="0.1"/><stop offset="1" stop-color="#000" stop-opacity="0.1"/></linearGradient>
<linearGradient id="wf" x1="0" y1="0" x2="0" y2="1"><stop offset="0" stop-color="#fff" stop-opacity="0.9"/><stop offset="1" stop-color="#fff" stop-opacity="0"/></linearGradient><linearGradient id="wf2" x1="0" y1="0" x2="1" y2="0"><stop offset="0" stop-color="#fff" stop-opacity="0.6"/><stop offset="1" stop-color="#fff" stop-opacity="0"/></linearGradient>
<linearGradient id="bg3" x1="0" y1="0.2" x2="1" y2="0.7"><stop offset="0" stop-color="#000" stop-opacity="0"/><stop offset="0.6" stop-color="#000" stop-opacity="0"/><stop offset="0.88" stop-color="#000" stop-opacity="0.22"/><stop offset="1" stop-color="#000" stop-opacity="0.5"/></linearGradient>
<clipPath id="k1"><rect x="334.8" y="340" width="137.4" height="70.2"/></clipPath>
<clipPath id="k2"><rect x="484.7" y="340" width="138.2" height="70.6"/></clipPath>
<clipPath id="k3"><rect x="334.8" y="465" width="137.4" height="74.4"/></clipPath>
<clipPath id="k4"><rect x="484.7" y="465" width="138.2" height="74.4"/></clipPath>
</defs>
<rect x="326.6" y="292" width="304" height="252" fill="url(#bpg)"/><rect x="326.6" y="292" width="304" height="6" fill="url(#wf)"/><rect x="326.6" y="292" width="5" height="252" fill="url(#wf2)"/>
<g filter="url(#b05)">
<path d="M334.2 346.0 C352.2 346.0 371.8 352.4 401.8 352.4 C431.8 352.4 454.2 346.0 472.2 346.0 V410.2 H334.2 Z" fill="url(#gb1)"/>
<path d="M484.7 345.4 C502.7 345.4 525.2 358.8 553.2 358.8 C581.2 358.8 604.9 345.4 622.9 345.4 V410.6 H484.7 Z" fill="url(#gb1)"/>
<path d="M334.8 472.2 C352.8 472.2 371.8 479.5 401.8 479.5 C431.8 479.5 454.2 472.2 472.2 472.2 V539.4 H334.8 Z" fill="url(#gb1)"/>
<path d="M484.7 472.2 C502.7 472.2 525.2 487.5 553.2 487.5 C581.2 487.5 604.9 472.2 622.9 472.2 V539.4 H484.7 Z" fill="url(#gb1)"/>
<g clip-path="url(#k1)">
<path d="M332.8 361.9 C335.3 360.9 342.9 356.6 348.0 356.1 C353.1 355.5 358.1 357.5 363.2 358.6 C368.3 359.7 372.5 362.0 378.5 362.4 C384.4 362.8 392.4 361.6 398.8 361.1 C405.1 360.7 410.6 360.5 416.5 359.9 C422.4 359.2 428.4 357.5 434.3 357.3 C440.2 357.1 445.5 357.9 452.1 358.6 C458.6 359.3 470.0 361.1 473.6 361.6" fill="none" stroke="#f07a2c" stroke-width="2.0" stroke-linecap="round" stroke-linejoin="round" />
<path d="M332.8 380.9 C335.3 379.8 342.5 375.0 348.0 373.8 C353.5 372.6 360.3 373.0 365.8 373.8 C371.3 374.7 375.1 377.9 381.0 378.9 C386.9 380.0 394.5 380.8 401.3 380.2 C408.1 379.5 414.8 376.4 421.6 375.1 C428.4 373.8 436.0 372.6 441.9 372.6 C447.8 372.6 451.8 373.7 457.1 375.1 C462.4 376.5 470.9 380.0 473.6 380.9" fill="none" stroke="#f07a2c" stroke-width="2.0" stroke-linecap="round" stroke-linejoin="round" />
<path d="M332.8 406.8 C334.5 404.7 338.7 396.9 342.9 394.1 C347.1 391.4 352.6 390.5 358.1 390.3 C363.6 390.1 370.0 391.6 375.9 392.9 C381.8 394.1 387.3 396.9 393.7 397.9 C400.0 399.0 407.6 399.6 414.0 399.2 C420.3 398.8 425.8 396.7 431.8 395.4 C437.7 394.1 444.4 392.0 449.5 391.6 C454.6 391.2 458.2 391.7 462.2 392.9 C466.2 394.1 471.7 397.7 473.6 398.7" fill="none" stroke="#f07a2c" stroke-width="2.0" stroke-linecap="round" stroke-linejoin="round" />
<path d="M373.9 349.7 C372.3 351.0 365.8 354.2 364.5 357.3 C363.1 360.5 364.1 364.7 365.8 368.8 C367.5 372.8 373.2 376.8 374.6 381.4 C376.1 386.1 375.1 391.8 374.6 396.7 C374.2 401.5 372.5 408.3 372.1 410.6" fill="none" stroke="#f07a2c" stroke-width="2.0" stroke-linecap="round" stroke-linejoin="round" />
<path d="M398.2 351.5 C399.0 353.1 401.4 357.8 402.6 361.1 C403.7 364.4 405.3 367.5 405.1 371.3 C404.9 375.1 401.7 379.7 401.3 384.0 C400.9 388.3 402.4 395.0 402.6 397.2" fill="none" stroke="#f07a2c" stroke-width="2.0" stroke-linecap="round" stroke-linejoin="round" />
<path d="M444.9 348.5 C445.7 350.1 450.0 355.2 449.5 358.6 C449.0 362.0 442.3 364.9 441.9 368.8 C441.5 372.6 445.1 377.2 447.0 381.4 C448.9 385.7 452.1 389.3 453.3 394.1 C454.6 399.0 454.4 407.9 454.6 410.6" fill="none" stroke="#f07a2c" stroke-width="2.0" stroke-linecap="round" stroke-linejoin="round" />
</g>
<g clip-path="url(#k2)">
<path d="M483.2 360.6 C485.7 359.5 493.8 354.5 497.9 353.5 C502.1 352.6 506.4 354.6 508.1 354.8" fill="none" stroke="#f07a2c" stroke-width="2.0" stroke-linecap="round" stroke-linejoin="round" />
<path d="M517.0 358.6 C519.3 359.0 526.0 359.9 530.9 361.1 C535.8 362.4 543.6 365.4 546.1 366.2" fill="none" stroke="#f07a2c" stroke-width="2.0" stroke-linecap="round" stroke-linejoin="round" />
<path d="M551.7 361.6 C555.0 361.6 565.5 361.6 571.5 361.1 C577.6 360.6 585.3 359.0 588.0 358.6" fill="none" stroke="#f07a2c" stroke-width="2.0" stroke-linecap="round" stroke-linejoin="round" />
<path d="M591.8 356.1 C593.9 355.9 599.1 354.0 604.5 354.8 C609.9 355.6 621.0 359.7 624.3 360.6" fill="none" stroke="#f07a2c" stroke-width="2.0" stroke-linecap="round" stroke-linejoin="round" />
<path d="M483.2 380.9 C485.7 379.8 492.9 374.8 497.9 373.8 C502.9 372.9 507.6 373.6 513.1 375.1 C518.6 376.6 525.4 381.7 530.9 382.7 C536.4 383.8 540.6 382.5 546.1 381.4 C551.6 380.4 560.9 377.2 563.9 376.4" fill="none" stroke="#f07a2c" stroke-width="2.0" stroke-linecap="round" stroke-linejoin="round" />
<path d="M568.5 375.1 C571.1 374.9 578.6 373.4 584.2 373.8 C589.8 374.3 595.3 376.3 602.0 377.6 C608.7 379.0 620.6 381.2 624.3 382.0" fill="none" stroke="#f07a2c" stroke-width="2.0" stroke-linecap="round" stroke-linejoin="round" />
<path d="M483.2 406.3 C485.2 404.3 490.8 397.0 495.4 394.1 C499.9 391.3 505.1 389.5 510.6 389.1 C516.1 388.6 522.9 390.3 528.4 391.6 C533.9 392.9 538.5 395.4 543.6 396.7 C548.7 397.9 552.9 399.4 558.8 399.2 C564.8 399.0 572.8 396.5 579.1 395.4 C585.5 394.3 591.4 393.1 596.9 392.9 C602.4 392.7 607.6 393.2 612.1 394.1 C616.7 395.1 622.3 397.9 624.3 398.7" fill="none" stroke="#f07a2c" stroke-width="2.0" stroke-linecap="round" stroke-linejoin="round" />
<path d="M518.7 347.2 C517.4 348.9 512.4 353.7 510.6 357.3 C508.8 360.9 507.4 364.7 508.1 368.8 C508.7 372.8 512.7 376.8 514.4 381.4 C516.1 386.1 518.0 391.8 518.2 396.7 C518.4 401.5 516.1 408.3 515.7 410.6" fill="none" stroke="#f07a2c" stroke-width="2.0" stroke-linecap="round" stroke-linejoin="round" />
<path d="M548.7 357.3 C549.9 358.4 554.0 360.9 556.3 363.7 C558.6 366.4 561.2 370.7 562.6 373.8 C564.1 377.0 564.8 381.2 565.2 382.7" fill="none" stroke="#f07a2c" stroke-width="2.0" stroke-linecap="round" stroke-linejoin="round" />
<path d="M558.8 385.3 C557.8 386.7 553.1 391.0 552.5 394.1 C551.9 397.3 554.2 401.5 555.0 404.3 C555.9 407.0 557.1 409.6 557.6 410.6" fill="none" stroke="#f07a2c" stroke-width="2.0" stroke-linecap="round" stroke-linejoin="round" />
<path d="M595.6 347.2 C596.5 349.1 600.9 355.0 600.7 358.6 C600.5 362.2 595.8 365.4 594.4 368.8 C592.9 372.1 590.6 375.5 591.8 378.9 C593.1 382.3 599.2 385.7 602.0 389.1 C604.7 392.4 607.3 395.6 608.3 399.2 C609.4 402.8 608.3 408.7 608.3 410.6" fill="none" stroke="#f07a2c" stroke-width="2.0" stroke-linecap="round" stroke-linejoin="round" />
<path d="M532.2 377.6 C533.0 376.6 535.1 372.4 537.3 371.3 C539.4 370.2 543.6 371.3 544.9 371.3" fill="none" stroke="#f07a2c" stroke-width="2.0" stroke-linecap="round" stroke-linejoin="round" />
<path d="M575.3 380.2 C576.8 380.4 582.1 380.4 584.2 381.4 C586.3 382.5 587.4 385.7 588.0 386.5" fill="none" stroke="#f07a2c" stroke-width="2.0" stroke-linecap="round" stroke-linejoin="round" />
<path d="M572.8 404.3 C574.1 403.7 578.1 400.7 580.4 400.5 C582.7 400.3 585.7 402.6 586.8 403.0" fill="none" stroke="#f07a2c" stroke-width="2.0" stroke-linecap="round" stroke-linejoin="round" />
</g>
<g clip-path="url(#k3)">
<path d="M332.8 499.3 C334.5 498.8 340.0 498.3 342.9 496.3 C345.9 494.3 349.3 488.9 350.5 487.4" fill="none" stroke="#f08434" stroke-width="1.9" stroke-linecap="round" stroke-linejoin="round" />
<path d="M381.0 493.8 C380.1 494.8 375.5 498.6 375.9 500.1 C376.3 501.6 379.3 502.4 383.5 502.6 C387.8 502.9 396.9 500.9 401.3 501.4 C405.7 501.8 408.7 504.5 410.2 505.2" fill="none" stroke="#f08434" stroke-width="1.9" stroke-linecap="round" stroke-linejoin="round" />
<path d="M410.9 510.3 C411.0 511.7 409.7 518.3 411.4 519.1 C413.2 520.0 418.2 516.8 421.6 515.3 C425.0 513.8 428.8 509.6 431.8 510.3 C434.7 510.9 438.1 517.7 439.4 519.1" fill="none" stroke="#f08434" stroke-width="1.9" stroke-linecap="round" stroke-linejoin="round" />
<path d="M457.1 487.4 C456.3 488.9 451.2 494.2 452.1 496.3 C452.9 498.4 458.6 499.4 462.2 500.1 C465.8 500.8 471.7 500.3 473.6 500.4" fill="none" stroke="#f08434" stroke-width="1.9" stroke-linecap="round" stroke-linejoin="round" />
<path d="M332.8 491.2 C335.3 489.9 342.5 484.2 348.0 483.6 C353.5 483.0 360.3 485.9 365.8 487.4 C371.3 488.9 373.8 491.9 381.0 492.5 C388.2 493.1 400.4 492.1 408.9 491.2 C417.4 490.4 423.7 488.3 431.8 487.4 C439.8 486.6 450.2 485.4 457.1 486.1 C464.1 486.9 470.9 490.8 473.6 491.7" fill="none" stroke="#17a245" stroke-width="2.7" stroke-linecap="round" stroke-linejoin="round" />
<path d="M332.8 511.0 C335.3 510.0 342.5 505.7 348.0 505.2 C353.5 504.6 360.3 506.7 365.8 507.7 C371.3 508.8 373.4 511.5 381.0 511.5 C388.6 511.5 403.4 508.8 411.4 507.7 C419.5 506.7 423.9 505.8 429.2 505.2 C434.5 504.5 438.5 503.5 443.2 503.9 C447.8 504.3 452.1 506.4 457.1 507.7 C462.2 509.1 470.9 511.3 473.6 512.0" fill="none" stroke="#17a245" stroke-width="2.7" stroke-linecap="round" stroke-linejoin="round" />
<path d="M332.8 534.9 C335.3 532.7 343.3 524.5 348.0 521.7 C352.6 518.8 355.6 517.9 360.7 517.9 C365.8 517.9 372.1 520.0 378.5 521.7 C384.8 523.4 391.6 527.4 398.8 528.0 C405.9 528.7 414.6 526.5 421.6 525.5 C428.6 524.4 434.7 522.1 440.6 521.7 C446.6 521.3 451.6 521.8 457.1 522.9 C462.6 524.1 470.9 527.8 473.6 528.8" fill="none" stroke="#17a245" stroke-width="2.7" stroke-linecap="round" stroke-linejoin="round" />
<ellipse cx="351.8" cy="484.1" rx="2.4" ry="4.7" transform="rotate(10 351.8 484.1)" fill="none" stroke="#c21019" stroke-width="1.9" stroke-dasharray="23.44 0.01" stroke-dashoffset="-0.01"/>
<ellipse cx="381.0" cy="491.7" rx="2.4" ry="4.7" transform="rotate(10 381.0 491.7)" fill="none" stroke="#c21019" stroke-width="1.9" stroke-dasharray="23.44 0.01" stroke-dashoffset="-0.01"/>
<ellipse cx="408.9" cy="490.7" rx="2.4" ry="4.7" transform="rotate(10 408.9 490.7)" fill="none" stroke="#c21019" stroke-width="1.9" stroke-dasharray="23.44 0.01" stroke-dashoffset="-0.01"/>
<ellipse cx="457.6" cy="486.9" rx="2.4" ry="4.7" transform="rotate(10 457.6 486.9)" fill="none" stroke="#c21019" stroke-width="1.9" stroke-dasharray="23.44 0.01" stroke-dashoffset="-0.01"/>
<ellipse cx="367.0" cy="508.2" rx="2.4" ry="4.7" transform="rotate(10 367.0 508.2)" fill="none" stroke="#c21019" stroke-width="1.9" stroke-dasharray="23.44 0.01" stroke-dashoffset="-0.01"/>
<ellipse cx="410.9" cy="508.2" rx="2.4" ry="4.7" transform="rotate(10 410.9 508.2)" fill="none" stroke="#c21019" stroke-width="1.9" stroke-dasharray="23.44 0.01" stroke-dashoffset="-0.01"/>
<ellipse cx="443.2" cy="503.4" rx="2.4" ry="4.7" transform="rotate(10 443.2 503.4)" fill="none" stroke="#c21019" stroke-width="1.9" stroke-dasharray="23.44 0.01" stroke-dashoffset="-0.01"/>
<ellipse cx="351.8" cy="520.9" rx="2.4" ry="4.7" transform="rotate(10 351.8 520.9)" fill="none" stroke="#c21019" stroke-width="1.9" stroke-dasharray="23.44 0.01" stroke-dashoffset="-0.01"/>
<ellipse cx="398.2" cy="528.0" rx="2.4" ry="4.7" transform="rotate(10 398.2 528.0)" fill="none" stroke="#c21019" stroke-width="1.9" stroke-dasharray="23.44 0.01" stroke-dashoffset="-0.01"/>
<ellipse cx="440.1" cy="522.9" rx="2.4" ry="4.7" transform="rotate(10 440.1 522.9)" fill="none" stroke="#c21019" stroke-width="1.9" stroke-dasharray="23.44 0.01" stroke-dashoffset="-0.01"/>
</g>
<g clip-path="url(#k4)">
<path d="M483.2 499.3 C485.2 498.6 492.1 497.0 495.4 495.0 C498.7 493.0 501.7 488.7 503.0 487.4" fill="none" stroke="#f08434" stroke-width="1.9" stroke-linecap="round" stroke-linejoin="round" />
<path d="M518.2 493.8 C519.5 495.4 521.2 501.6 525.8 503.9 C530.5 506.2 541.1 507.3 546.1 507.7 C551.2 508.1 553.5 506.4 556.3 506.4 C559.0 506.4 561.6 507.5 562.6 507.7" fill="none" stroke="#f08434" stroke-width="1.9" stroke-linecap="round" stroke-linejoin="round" />
<path d="M563.4 510.3 C563.6 511.7 562.6 518.9 564.4 519.1 C566.2 519.3 570.8 512.8 574.1 511.5 C577.4 510.3 581.3 510.0 584.2 511.5 C587.2 513.0 590.6 518.9 591.8 520.4" fill="none" stroke="#f08434" stroke-width="1.9" stroke-linecap="round" stroke-linejoin="round" />
<path d="M608.3 492.5 C608.7 493.8 608.2 498.2 610.9 500.1 C613.5 502.0 622.1 503.3 624.3 503.9" fill="none" stroke="#f08434" stroke-width="1.9" stroke-linecap="round" stroke-linejoin="round" />
<path d="M483.2 492.2 C486.1 490.8 495.0 483.8 500.5 483.6 C505.9 483.4 510.6 488.7 515.7 491.2 C520.8 493.8 525.0 497.4 530.9 498.8 C536.8 500.3 544.5 500.3 551.2 500.1 C558.0 499.9 566.0 498.4 571.5 497.6 C577.0 496.7 578.1 496.1 584.2 495.0 C590.3 494.0 601.6 491.9 608.3 491.2 C615.0 490.5 621.6 490.8 624.3 490.7" fill="none" stroke="#17a245" stroke-width="2.7" stroke-linecap="round" stroke-linejoin="round" />
<path d="M483.2 511.0 C486.1 510.0 494.6 505.7 500.5 505.2 C506.3 504.6 512.7 506.7 518.2 507.7 C523.7 508.8 527.5 511.1 533.5 511.5 C539.4 511.9 548.9 510.9 553.8 510.3 C558.6 509.6 558.4 509.0 562.6 507.7 C566.9 506.4 573.8 503.7 579.1 502.6 C584.4 501.6 589.3 500.9 594.4 501.4 C599.4 501.8 604.6 503.6 609.6 505.2 C614.6 506.8 621.9 510.0 624.3 511.0" fill="none" stroke="#17a245" stroke-width="2.7" stroke-linecap="round" stroke-linejoin="round" />
<path d="M483.2 534.9 C485.7 532.9 493.4 525.8 497.9 522.9 C502.5 520.1 505.1 518.1 510.6 517.9 C516.1 517.7 524.4 520.0 530.9 521.7 C537.5 523.4 543.2 527.4 549.9 528.0 C556.7 528.7 564.5 526.5 571.5 525.5 C578.5 524.4 585.9 522.3 591.8 521.7 C597.7 521.0 601.6 520.9 607.1 521.7 C612.5 522.4 621.4 525.5 624.3 526.2" fill="none" stroke="#17a245" stroke-width="2.7" stroke-linecap="round" stroke-linejoin="round" />
<ellipse cx="503.5" cy="483.6" rx="2.4" ry="4.7" transform="rotate(10 503.5 483.6)" fill="none" stroke="#c21019" stroke-width="1.9" stroke-dasharray="23.44 0.01" stroke-dashoffset="-0.01"/>
<ellipse cx="517.0" cy="491.7" rx="2.4" ry="4.7" transform="rotate(10 517.0 491.7)" fill="none" stroke="#c21019" stroke-width="1.9" stroke-dasharray="23.44 0.01" stroke-dashoffset="-0.01"/>
<ellipse cx="583.7" cy="495.0" rx="2.4" ry="4.7" transform="rotate(10 583.7 495.0)" fill="none" stroke="#c21019" stroke-width="1.9" stroke-dasharray="23.44 0.01" stroke-dashoffset="-0.01"/>
<ellipse cx="608.3" cy="491.7" rx="2.4" ry="4.7" transform="rotate(10 608.3 491.7)" fill="none" stroke="#c21019" stroke-width="1.9" stroke-dasharray="23.44 0.01" stroke-dashoffset="-0.01"/>
<ellipse cx="518.7" cy="507.7" rx="2.4" ry="4.7" transform="rotate(10 518.7 507.7)" fill="none" stroke="#c21019" stroke-width="1.9" stroke-dasharray="23.44 0.01" stroke-dashoffset="-0.01"/>
<ellipse cx="562.6" cy="507.7" rx="2.4" ry="4.7" transform="rotate(10 562.6 507.7)" fill="none" stroke="#c21019" stroke-width="1.9" stroke-dasharray="23.44 0.01" stroke-dashoffset="-0.01"/>
<ellipse cx="594.4" cy="502.6" rx="2.4" ry="4.7" transform="rotate(10 594.4 502.6)" fill="none" stroke="#c21019" stroke-width="1.9" stroke-dasharray="23.44 0.01" stroke-dashoffset="-0.01"/>
<ellipse cx="503.5" cy="520.9" rx="2.4" ry="4.7" transform="rotate(10 503.5 520.9)" fill="none" stroke="#c21019" stroke-width="1.9" stroke-dasharray="23.44 0.01" stroke-dashoffset="-0.01"/>
<ellipse cx="549.9" cy="528.0" rx="2.4" ry="4.7" transform="rotate(10 549.9 528.0)" fill="none" stroke="#c21019" stroke-width="1.9" stroke-dasharray="23.44 0.01" stroke-dashoffset="-0.01"/>
<ellipse cx="592.3" cy="522.2" rx="2.4" ry="4.7" transform="rotate(10 592.3 522.2)" fill="none" stroke="#c21019" stroke-width="1.9" stroke-dasharray="23.44 0.01" stroke-dashoffset="-0.01"/>
<ellipse cx="543.1" cy="499.3" rx="1.9" ry="4.2" fill="none" stroke="#e02020" stroke-width="1.5" stroke-dasharray="1.2 1.1"/>
<ellipse cx="567.7" cy="498.3" rx="1.9" ry="4.2" fill="none" stroke="#e02020" stroke-width="1.5" stroke-dasharray="1.2 1.1"/>
</g>
<circle cx="401.8" cy="320.5" r="28.0" fill="url(#bg1)"/><circle cx="401.8" cy="320.5" r="28.0" fill="url(#bg2)"/><circle cx="401.8" cy="320.5" r="28.0" fill="url(#bg3)"/>
<circle cx="553.2" cy="330.7" r="28.2" fill="url(#bg1)"/><circle cx="553.2" cy="330.7" r="28.2" fill="url(#bg2)"/><circle cx="553.2" cy="330.7" r="28.2" fill="url(#bg3)"/>
<circle cx="401.8" cy="451.9" r="28.0" fill="url(#bg1)"/><circle cx="401.8" cy="451.9" r="28.0" fill="url(#bg2)"/><circle cx="401.8" cy="451.9" r="28.0" fill="url(#bg3)"/>
<circle cx="553.2" cy="462.0" r="28.0" fill="url(#bg1)"/><circle cx="553.2" cy="462.0" r="28.0" fill="url(#bg2)"/><circle cx="553.2" cy="462.0" r="28.0" fill="url(#bg3)"/>
<path d="M544.3 491.6 C540 487 534 485 526 484.6 C523 484.2 521 483 519.6 481.2" fill="none" stroke="#f8b41c" stroke-width="3.2"/>
<polygon points="518.2,477.6 523.6,481.4 517.6,484.4" fill="#f8b41c"/>
<path d="M562 491 C566 487 572 485.2 579 484.8 C581.5 484.4 583 483.6 584.2 482.4" fill="none" stroke="#f8b41c" stroke-width="3.2"/>
<polygon points="586.4,479.2 586.6,485.8 580.8,481.4" fill="#f8b41c"/>
</g>
<g font-family="Liberation Sans, sans-serif" font-weight="bold" font-size="10.8" fill="#1c1c1c" stroke="#1c1c1c" stroke-width="0.35" filter="url(#b05)">
<text x="402.1" y="316.7" text-anchor="middle" textLength="32" lengthAdjust="spacingAndGlyphs">Glass</text><text x="402.1" y="331.4" text-anchor="middle" textLength="20.3" lengthAdjust="spacingAndGlyphs">ball</text>
<text x="553.5" y="326.6" text-anchor="middle" textLength="32" lengthAdjust="spacingAndGlyphs">Glass</text><text x="553.5" y="341.6" text-anchor="middle" textLength="20.3" lengthAdjust="spacingAndGlyphs">ball</text>
<text x="402.1" y="447.8" text-anchor="middle" textLength="32" lengthAdjust="spacingAndGlyphs">Glass</text><text x="402.1" y="462.6" text-anchor="middle" textLength="20.3" lengthAdjust="spacingAndGlyphs">ball</text>
<text x="553.5" y="457.2" text-anchor="middle" textLength="32" lengthAdjust="spacingAndGlyphs">Glass</text><text x="553.5" y="472.0" text-anchor="middle" textLength="20.3" lengthAdjust="spacingAndGlyphs">ball</text>
<text x="332.3" y="326.9" font-size="20.5" stroke-width="0.55" textLength="34.7" lengthAdjust="spacingAndGlyphs">(a1)</text>
<text x="332.3" y="453.2" font-size="20.5" stroke-width="0.55" textLength="34.7" lengthAdjust="spacingAndGlyphs">(a2)</text>
<text transform="translate(516 478) rotate(17)" font-size="12" fill="#e61c1c" stroke="#e61c1c" textLength="38" lengthAdjust="spacingAndGlyphs">Sliding</text>
<text transform="translate(557.4 485) rotate(-14)" font-size="12" fill="#e61c1c" stroke="#e61c1c" textLength="36.5" lengthAdjust="spacingAndGlyphs">Sliding</text>
</g>
</svg>
</body></html>
